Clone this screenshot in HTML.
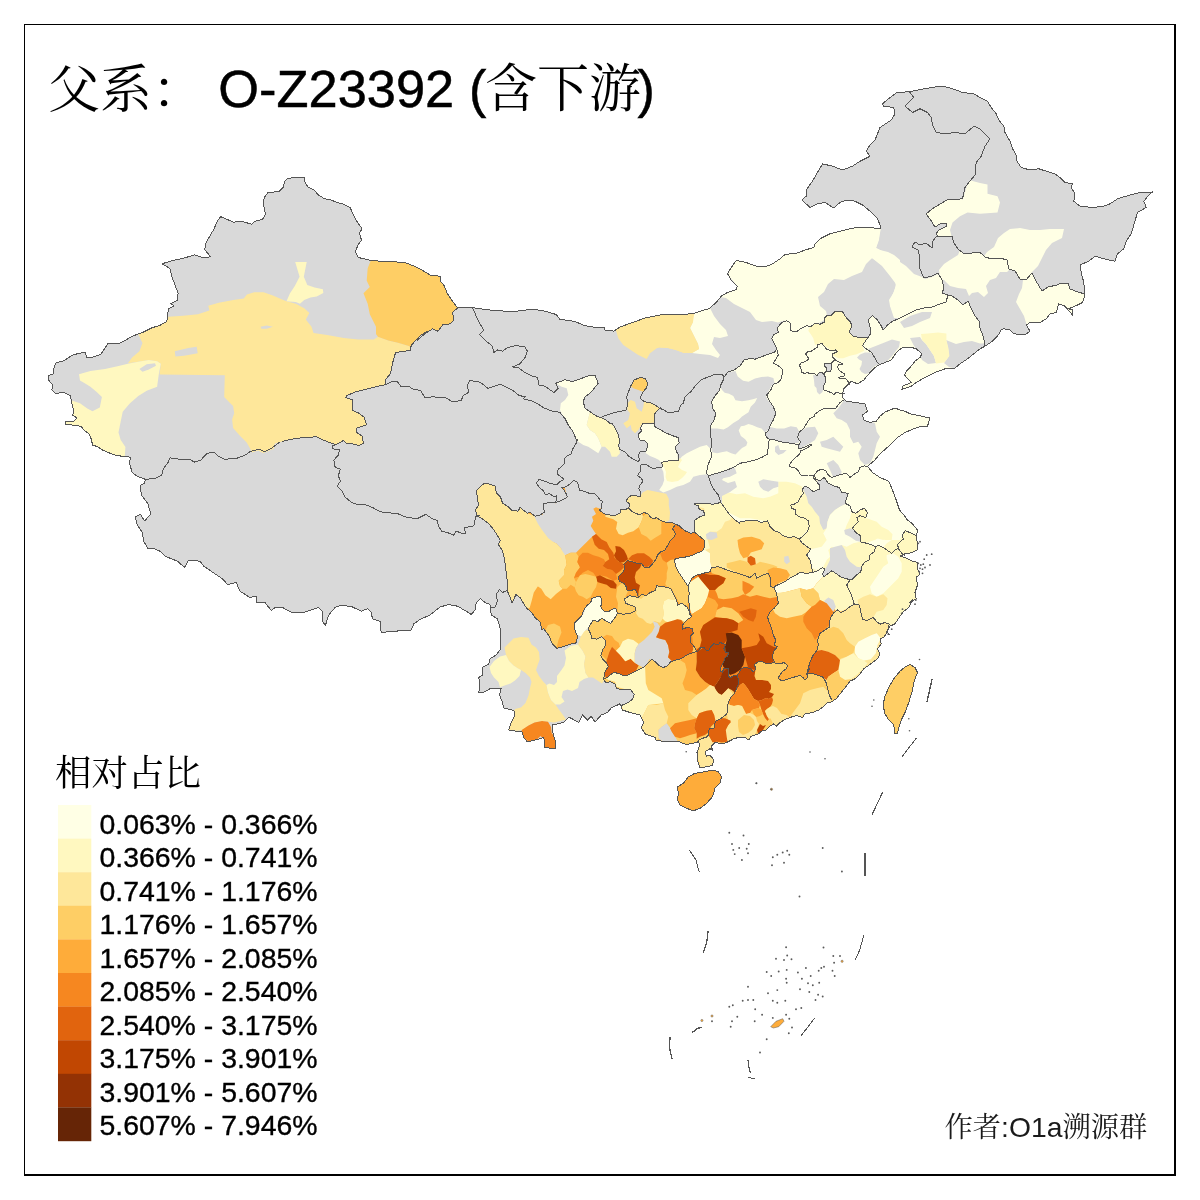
<!DOCTYPE html>
<html lang="zh"><head><meta charset="utf-8"><title>父系： O-Z23392 (含下游)</title>
<style>
html,body{margin:0;padding:0;background:#fff;}
body{width:1200px;height:1200px;overflow:hidden;position:relative;font-family:"Liberation Sans","Noto Serif CJK SC",sans-serif;}
svg{position:absolute;left:0;top:0;display:block}
text{font-family:"Liberation Sans","Noto Serif CJK SC",sans-serif;fill:#000}
.cj{font-family:"Noto Serif CJK SC","Liberation Serif",serif;font-weight:400}
.la{font-family:"Liberation Sans",sans-serif}
.lb{stroke:#000;stroke-width:0.5px}
.ls{stroke:#000;stroke-width:0.35px}
.b{fill:none;stroke:#555;stroke-width:1;stroke-linejoin:round;stroke-linecap:round;shape-rendering:crispEdges}
</style></head><body>
<svg width="1200" height="1200" viewBox="0 0 1200 1200">
<rect x="0" y="0" width="1200" height="1200" fill="#fff"/>
<path d="M400,262.1L385.4,261.7L370.8,260.4L358.3,257.5L355.2,251.7L358.3,244.4L361.5,240.2L359.4,232.9L362.1,228.8L356.2,220.4L352.1,212.1L350.4,207.9L343.8,204.2L337.5,202.7L331.2,200L324,198.5L317.7,194.4L314.6,190.2L308.3,187.1L305.2,182.9L304.2,177.7L295.8,177.1L287.5,178.8L284.4,181.9L283.3,187.1L279.2,191.2L267.7,192.9L264.2,197.5L263.5,204.8L265.6,214.2L262.5,219.4L254.2,221.5L252.1,224.2L241.7,221.5L233.3,222.1L220.8,216.7L217.7,220.4L213.5,229.8L206.2,242.3L204.6,249.6L208.3,253.8L210.4,256.9L202.1,257.5L194.8,254.8L183.3,258.3L170.8,261L162.1,263.8L169.8,268.3L171.9,276.7L175,285L178.1,293.3L177.1,300.6L170.8,303.8L174,305.8L168.3,309L167.7,315.2L166.7,321.5L159.4,325.6L150,328.3L152.9,327.3L142.5,332.5L132.1,336.2L124.8,340.8L119.6,343.3L108.1,343.3L105,348.1L100.8,354.4L92.5,357.1L86.7,357.5L85.2,352.3L79,353.3L71.7,355.4L64.4,360.6L56,362.7L54,367.9L53.3,373.8L48.3,375.8L48.8,380.4L52.5,384.6L51.9,389.8L55.4,393.3L64.4,392.5L70.6,396L71.7,403.3L73.8,410.6L72.7,415.4L76.9,417.9L73.8,421L65.4,421.7L65.4,424.2L81,426.2L84.2,430.4L89.4,434.2L91.5,439.8L92.5,445L97.7,446.7L102.9,450.2L110.2,453.3L116.5,455.4L123.8,456.5L130.4,457.1L129.6,463.8L132.1,472.1L136.2,475.8L145.6,479.4L144.2,483.5L140,485.6L141.5,495L147.7,503.3L150.8,513.8L144.6,521L140.4,514.2L135.2,516.9L137.3,525.2L142.5,532.5L143.5,540.8L147.7,548.1L152.5,548L160,551.2L165,556.2L177.5,561.2L184.5,567.5L188.8,560L200,561.2L203.8,566.2L215,573.8L222.5,578.8L227.5,584.5L236.2,582.5L240,591.2L250,597.5L256.2,596.2L257,602.5L265,602.5L271.2,610.5L275,607.5L282.5,607.5L292.5,613L305,612L318.8,607.5L322,611.2L322,621.2L325.5,625L328.8,615L335,607.5L341.2,605L352.5,607L361.2,611.2L367.5,608.8L371.2,612.5L372.5,618.8L380,621.2L381.2,632.5L395,631.2L411.2,630L413.8,623.8L420,619.5L430,615L440,607L448.8,604.5L457.5,606.2L466.2,611.2L471.2,614.5L475,610L476.2,602.5L480.5,598.8L485,602.5L490,604.5L491.2,615L497.5,618.8L500,627.5L500.5,640L500,650L496.2,655L490,658.8L488.8,663.8L482.5,667.5L483,675L478.8,677.5L480,685L478.8,692.5L482.5,693L490,688.8L501.2,688L499.5,695L502.5,702.5L503.8,708L513.8,710.5L515,715L511.2,722.5L508.8,730L522,732L523.8,737.5L527.5,742L540,738.8L543.8,737.5L545,747.5L555,748.8L555,740L552.5,731.2L552,725L563.8,722.5L568.8,717L578.8,722.5L582.5,715L587.5,720L591.2,716.2L595,722L601.2,715L607.5,712.5L611.2,708L620,703.8L622.5,710L630,712.5L640,715L643.8,722.5L641.2,727.5L645,733.8L655,737.5L656.2,740.5L670,742L677.5,741.2L686.2,744.5L693.8,743L698.8,742L699.5,746.2L697,752.5L697.5,760L700,768L712.5,765.5L713.8,760L710,755L706.2,756.2L705.5,751.2L710,748.8L712.5,750L711.2,746.2L715,742.5L722.5,743.8L727.5,742L733.8,738.8L740,737L745,737.5L748.8,740L751.2,736.2L755,735L758.8,733.8L761.2,731.2L766.2,730L770,726.2L773.8,723.8L776.2,726.2L780,722.5L785,719.5L790,717.5L796.2,715.5L802.5,717.5L805,713.8L812.5,712.5L818.8,710L823.8,706.2L827.5,702.5L831.2,702L836.2,698.8L841.2,692.5L846.2,686.2L850,681.2L855,678.8L860,673.8L863.8,668.8L867.5,666.2L872.5,662.5L877.5,658.8L880,653.8L877.5,648.8L881.2,643.8L880,638.8L883.8,637.5L887.5,631.2L890,626.2L895,623.8L900,616.2L903.8,611.2L908.8,607.5L912.5,600L910,602.5L916.2,598.8L915,592.5L917.5,585L916.2,577.5L920,573.8L917.5,568.8L917.5,562.5L912.5,561.2L905,557.5L900,556.2L905,553.8L912.5,552.5L917,550L917.5,542.5L916.2,537.5L917.5,530L912.5,523.8L907.5,520L903.8,515L899.5,510L896.2,500L892.5,490L888.8,481.2L880,477.5L872.5,472.5L867.5,466.2L875,460L878.8,455L885,449.5L890,445L897.5,437.5L905,432.5L913.8,428.8L921.2,426.2L927.5,426.2L930,418L925,417L916.2,415L910,413.8L905,411.2L900,410L895,408L890,410L885,412L880,416.2L876.2,421.2L870,422.5L863.8,420L862.5,415L867.5,411.2L865,403.8L855,402.5L846.2,401.2L842,397L843.8,388.8L851.2,381.2L857.5,383.8L863.8,380L870,372.5L875,367.5L878.8,365L885,362.5L891.2,360L897.5,351.2L902.5,347.5L910,347L916.2,348.8L922,353.8L920,357.5L915,361.2L910,367.5L906.2,371.2L904.5,375L907.5,378.8L911.2,382.5L902.5,386.2L902,389.5L911.2,386.2L916.2,382.5L922.5,378.8L927.5,376.2L935,372.5L945,368.8L955,368L960,363.8L967.5,358.8L973.8,353.8L980,348.8L985,346.2L992.5,341.2L997.5,336.2L1001.2,330L1003.8,328.8L1010,330L1013.8,333.8L1025,335L1030,331.2L1026.2,325L1030,322.5L1040,322.5L1046.2,318.8L1050,313.8L1056.2,312.5L1058.8,303.8L1065,306.2L1072.5,315L1072.5,310L1068.8,308.8L1077.5,305L1082.5,302.5L1085,295L1083.8,282.5L1081.2,272.5L1080,265L1088.8,261.2L1095,256.2L1103.8,258.8L1115,261.2L1117.5,253.8L1123.8,248.8L1126.2,241.2L1131.2,233.8L1133.8,225L1137.5,212.5L1146.2,207.5L1143.8,201.2L1148.8,195L1152.5,192L1140,192.5L1130,195L1117.5,198.8L1110,203.8L1103.8,206.2L1092.5,207.5L1080,206.2L1073.8,201.2L1075,193.8L1071.2,187.5L1072.5,183.8L1065,182.5L1060,177.5L1055,173.8L1046.2,171.2L1038.8,168.8L1030,170L1021.2,167.5L1016.2,160L1016.2,155L1012.5,148.8L1010,141.2L1005,132.5L1003.8,126.2L998.8,120L996.2,113.8L991.2,107.5L987.5,101.2L980,97.5L973.8,93.8L962.5,92.5L955,89.5L946.2,87L940,86.2L923.8,88.8L912.5,91.2L896.2,93L890,97.5L882.5,103.8L883.8,106.2L893.8,107.5L895,113.8L891.2,120L880,127.5L875,140L870,145L866.2,151.2L870,156.2L860,161.2L852.5,166.2L842.5,170L832.5,166.2L822.5,163.8L817.5,172.5L812.5,181.2L806.2,190L806.2,196.2L802,200L810,207.5L817.5,203.8L825,202.5L833.8,208L840,202.5L846.2,200L855,201.2L862.5,205L870,211.2L877.5,218.8L880,225L880,228.8L870,227.5L860,227L850,228.8L840,231.2L830,233.8L820,238.8L815,243.8L813.8,247.5L805,250L797.5,253L785,254.5L780,258.8L772.5,263.8L765,267L756.2,266.2L746.2,262.5L736.2,260.5L731.2,267.5L727.5,273.8L731.2,280L737.5,286.2L736.2,289.5L727.5,292.5L721.2,296.2L716.2,302.5L708.8,308.8L700,311.2L692.5,313.8L677.5,314.5L660,315L645,318L632.5,322.5L620,327L613.8,331.2L610,330L605,330L603.8,327L592.5,327L583.8,325.5L577.5,322.5L570,320.5L560,319.5L556.2,314.5L545,311.2L535,309.5L526.2,310L516.2,311.2L510,312L500,310.5L490,310L480,308.8L472.5,307.5L457.5,308L452.5,301.2L447.5,293.8L443.8,285L440,281.2L440,276.2L430,275L420,268.8L412.5,265.5L405,262.5Z" fill="#D9D9D9"/>
<defs><clipPath id="c-gansu"><path d="M472.5,307.5L457.5,308L452.5,312.5L453.8,320L450,323.8L442.5,325L438,331.2L432.5,328.8L425,333.8L417.5,340L427.9,331L420.6,335.2L415.4,340.4L411.2,345.6L410.2,350.4L395.6,352.5L392.5,363.3L390.4,373.8L385.2,380L386.2,384.6L390.4,382.1L396.7,381L400.8,386.2L409.2,386.7L413.3,389.4L420.6,390.4L424.8,397.7L433.1,396.7L438.3,397.7L444.6,397.1L452.9,401.9L461.2,400.4L463.3,395.6L468.5,392.5L467.5,385.2L469.6,380.4L480,382.1L487.9,388.3L494.2,386.2L500.4,384.2L506.7,387.3L512.9,390.4L519.2,395.6L525.4,396.7L523.3,398.8L531.7,400.8L537.9,404L544.2,408.1L552.5,411.2L559.8,412.3L565,418.5L568.1,424.8L573.3,432.1L576.5,440.4L577.5,440L576.2,443.1L574.4,446.2L572.5,449.4L571.2,453.8L567.5,455.6L564.4,458.8L565,463.1L561.9,466.2L558.1,469.4L557.5,474.4L561.9,477.5L563.8,479.4L559.4,481.9L556.9,484.4L550.6,483.8L545,481.2L538.8,479.4L536.5,483.1L539.4,487.5L543.8,491.2L545,494.4L550,493.8L553.8,496.9L556.9,495.6L556.9,498.8L555.6,502.5L560,501.2L564.4,498.8L567.5,496.9L565.6,492.5L563.8,490L561.9,487.5L566.2,486.9L570,483.8L573.8,480.6L576.2,481.2L578.1,483.8L579.4,490L583.8,491.2L588.8,493.1L595,493.8L598.1,496.9L600,500L602.5,501.2L601.2,505L601.9,508.1L599.4,510L603.8,513.8L610,515L616.2,515L620,513.1L620,510L625.6,509.4L628.8,508.1L629.4,503.8L626.2,501.2L628.1,497.5L631.2,495.6L636.2,495.6L640,496.9L640.6,492.5L638.8,488.8L640,485L643.1,481.2L641.2,478.1L637.5,475.6L640,471.9L640,466.9L641.2,465L646.2,464.4L650,466.9L653.8,468.8L657.5,467.5L663.1,466.9L661.2,462.5L666.2,461.2L671.2,460.6L678.1,460.6L678.8,455L676.2,451.2L675.6,446.2L678.1,443.8L680,442.5L679,442L678,437.5L672,435.5L666,433L660,429.5L654.5,426.5L654,423.5L643,423.5L640.5,428L641.5,431L639,433.5L638,436L640,440L645,441L648,444L647,448L646,451L640,452L638.5,455L639.5,460L638,461.5L633,459L629,456.5L625,452L619.5,449L618.5,445L620,441L618,434L615,428L612,423L610,423.3L605.8,420L600.8,417.5L595.8,415.8L590,411.7L585,408.3L583.7,403.3L584.2,397.5L590,393.3L594.2,388.3L598.3,383.3L595,375.3L588.3,375.8L581.7,378.3L572.5,381.7L565,379.7L555.8,383.3L558.3,388.3L553.8,392.5L545,386.2L538.8,385L537.5,377.5L532.5,376.2L525,372.5L518.8,368L512.5,367L520,363.8L525,357.5L527.5,351.2L525,347L516.2,345.5L507.5,347.5L502.5,351.2L497.5,350L493.8,352.5L492.5,346.2L486.2,341.2L479.5,334.5L483.8,330L480,323.8L476.2,316.2Z"/></clipPath><clipPath id="c-im"><path d="M909.3,91.6L896.2,93L890,97.5L882.5,103.8L883.8,106.2L893.8,107.5L895,113.8L891.2,120L880,127.5L875,140L870,145L866.2,151.2L870,156.2L860,161.2L852.5,166.2L842.5,170L832.5,166.2L822.5,163.8L817.5,172.5L812.5,181.2L806.2,190L806.2,196.2L802,200L810,207.5L817.5,203.8L825,202.5L833.8,208L840,202.5L846.2,200L855,201.2L862.5,205L870,211.2L877.5,218.8L880,225L880,228.8L870,227.5L860,227L850,228.8L840,231.2L830,233.8L820,238.8L815,243.8L813.8,247.5L805,250L797.5,253L785,254.5L780,258.8L772.5,263.8L765,267L756.2,266.2L746.2,262.5L736.2,260.5L731.2,267.5L727.5,273.8L731.2,280L737.5,286.2L736.2,289.5L727.5,292.5L721.2,296.2L716.2,302.5L708.8,308.8L700,311.2L692.5,313.8L677.5,314.5L660,315L645,318L632.5,322.5L620,327L613.8,331.2L610,330L605,330L603.8,327L592.5,327L583.8,325.5L577.5,322.5L570,320.5L560,319.5L556.2,314.5L545,311.2L535,309.5L526.2,310L516.2,311.2L510,312L500,310.5L490,310L480,308.8L472.5,307.5L476.2,316.2L480,323.8L483.8,330L479.5,334.5L486.2,341.2L492.5,346.2L493.8,352.5L497.5,350L502.5,351.2L507.5,347.5L516.2,345.5L525,347L527.5,351.2L525,357.5L520,363.8L512.5,367L518.8,368L525,372.5L532.5,376.2L537.5,377.5L538.8,385L545,386.2L553.8,392.5L558.3,388.3L555.8,383.3L565,379.7L572.5,381.7L581.7,378.3L588.3,375.8L595,375.3L598.3,383.3L594.2,388.3L590,393.3L584.2,397.5L583.7,403.3L585,408.3L590,411.7L595.8,415.8L600.8,417.5L606.7,415L615,412.5L623.3,410.8L626.7,409.7L627.5,403.3L626.7,396.7L629.2,390L630.8,385.8L634.2,380L640,377.5L645,378.3L647.5,383.3L646.7,387.5L643.3,391.7L640,398.3L644.2,401.7L650,402.5L655,405L659.7,408.3L660,408.4L664.2,410L667.5,412.5L678.3,411.7L680.8,405L683.3,403.3L685,396.7L690.8,391.7L695.8,385L700.8,380L706.7,377.5L713.3,375L721.7,374.2L724.2,376.7L728.3,371.7L734.2,370L740,365.8L744.2,360L750,358.3L755,359.2L761.7,356.7L768.3,354.2L774.2,352.5L776.7,349.2L775.8,346.7L773.3,341.7L771.7,338.3L774.2,334.2L778.3,332.5L777.5,327.5L781.7,322.5L786.7,320.8L790,322.5L790.8,330.8L796.7,331.7L800,329.2L806.7,325.8L810.8,326.7L815,323.3L820,324.2L825,321.7L824.2,318.3L827.5,315L831.7,315L835,311.7L842.5,311.7L846.7,318.3L850.8,322.5L851.7,326.7L849.2,331.7L852.5,335.8L858.3,337.5L865,337.5L867.5,338.3L870.8,333.3L870,326.7L868.3,320L872.5,315.8L876.7,319.2L880.8,325L883.3,330L887.5,325L893.3,320.8L897.6,319.2L900,318L908,314L916,310L924,308L932,307L940,304L946,302L948,295L942,293L944,288L942,280L938,273L932,276L924,278L922,274L919,266L920,258L918,250L912,247L915,242L920,245L926,243L932,248L933,241L936,237L948,236L938,236.6L936,234L939,230L947,226L946,223L940,224L935,227L930,219L926,214L932,209L940,204L947,200L962.5,198.8L965,187.5L968.8,182.5L975,175L976.2,162.5L981.2,156.2L985,146.2L990,138.8L980,128.8L973.8,126.2L965,133.8L955,132.5L945,133.8L936.2,132.5L932.5,125L931.2,117.5L927.5,112.5L920,108.8L912.5,112.5L905,106.2L913.8,97.5L910,92.5Z"/></clipPath><clipPath id="c-hlj"><path d="M1084.9,294L1083.8,282.5L1081.2,272.5L1080,265L1088.8,261.2L1095,256.2L1103.8,258.8L1115,261.2L1117.5,253.8L1123.8,248.8L1126.2,241.2L1131.2,233.8L1133.8,225L1137.5,212.5L1146.2,207.5L1143.8,201.2L1148.8,195L1152.5,192L1140,192.5L1130,195L1117.5,198.8L1110,203.8L1103.8,206.2L1092.5,207.5L1080,206.2L1073.8,201.2L1075,193.8L1071.2,187.5L1072.5,183.8L1065,182.5L1060,177.5L1055,173.8L1046.2,171.2L1038.8,168.8L1030,170L1021.2,167.5L1016.2,160L1016.2,155L1012.5,148.8L1010,141.2L1005,132.5L1003.8,126.2L998.8,120L996.2,113.8L991.2,107.5L987.5,101.2L980,97.5L973.8,93.8L962.5,92.5L955,89.5L946.2,87L940,86.2L923.8,88.8L912.5,91.2L909.3,91.6L910,92.5L913.8,97.5L905,106.2L912.5,112.5L920,108.8L927.5,112.5L931.2,117.5L932.5,125L936.2,132.5L945,133.8L955,132.5L965,133.8L973.8,126.2L980,128.8L990,138.8L985,146.2L981.2,156.2L976.2,162.5L975,175L968.8,182.5L965,187.5L962.5,198.8L947,200L940,204L932,209L926,214L930,219L935,227L940,224L946,223L947,226L939,230L936,234L938,236.6L948,236L952,236L954,243L958,249L964,253.6L972,253L980,252.4L985,257L992,259L1000,258L1007,260L1009,269L1015,271L1020,279L1026,280L1032,273L1036,281L1042,291L1048,287L1057,285L1061,283L1068,283L1070,289L1078,292Z"/></clipPath><clipPath id="c-jilin"><path d="M984.3,346.6L985,346.2L992.5,341.2L997.5,336.2L1001.2,330L1003.8,328.8L1010,330L1013.8,333.8L1025,335L1030,331.2L1026.2,325L1030,322.5L1040,322.5L1046.2,318.8L1050,313.8L1056.2,312.5L1058.8,303.8L1065,306.2L1072.5,315L1072.5,310L1068.8,308.8L1077.5,305L1082.5,302.5L1085,295L1084.9,294L1078,292L1070,289L1068,283L1061,283L1057,285L1048,287L1042,291L1036,281L1032,273L1026,280L1020,279L1015,271L1009,269L1007,260L1000,258L992,259L985,257L980,252.4L972,253L964,253.6L958,249L954,243L952,236L948,236L936,237L933,241L932,248L926,243L920,245L915,242L912,247L918,250L920,258L919,266L922,274L924,278L932,276L938,273L942,280L944,288L942,293L948,295L952,296L958,300L963,305L968,301L971,308L975,316L979,321L980,328L983,336L985,343L984.4,346Z"/></clipPath><clipPath id="c-liaoning"><path d="M879.4,364.8L885,362.5L891.2,360L897.5,351.2L902.5,347.5L910,347L916.2,348.8L922,353.8L920,357.5L915,361.2L910,367.5L906.2,371.2L904.5,375L907.5,378.8L911.2,382.5L902.5,386.2L902,389.5L911.2,386.2L916.2,382.5L922.5,378.8L927.5,376.2L935,372.5L945,368.8L955,368L960,363.8L967.5,358.8L973.8,353.8L980,348.8L984.3,346.6L984.4,346L985,343L983,336L980,328L979,321L975,316L971,308L968,301L963,305L958,300L952,296L948,295L946,302L940,304L932,307L924,308L916,310L908,314L900,318L897.6,319.2L893.3,320.8L887.5,325L883.3,330L880.8,325L876.7,319.2L872.5,315.8L868.3,320L870,326.7L870.8,333.3L867.5,338.3L865,341.7L862.5,345.8L866.7,349.2L871.7,352.5L874.2,356.7L876.7,361.7L878.7,364Z"/></clipPath><clipPath id="c-hebei"><path d="M844.5,399.5L842,397L842.8,393.3L839,393L836,392.5L834,394.5L831,392.5L828,391.5L824,390L823,387L824.5,384L826,382L825.5,378.5L824.5,374.5L824.2,373.5L824,374.5L822,372.5L819,373L817,375.5L814,373.5L810,374L808,372.5L804.5,373.5L801.5,372L801,368.5L799.5,365.5L801,363L805,361.5L809,359L807,356L805.5,354L807.5,352L811.5,351L814.5,349L817.5,347L818,344.5L822,343.5L824,346L827,349.5L832,351L835.5,350L837.5,351.5L834.5,353L832.5,354L833,357.5L835,359.5L837.5,361.5L840,362.5L842.5,364L841,365L838.5,364.5L837.5,367L839,370L841.5,372L844,373.5L844.5,376L841.5,376.5L838.5,377.5L840,378.5L844,378L846.5,379.5L849.2,383.3L851.2,381.2L857.5,383.8L863.8,380L870,372.5L875,367.5L878.8,365L879.4,364.8L878.7,364L876.7,361.7L874.2,356.7L871.7,352.5L866.7,349.2L862.5,345.8L865,341.7L867.5,338.3L865,337.5L858.3,337.5L852.5,335.8L849.2,331.7L851.7,326.7L850.8,322.5L846.7,318.3L842.5,311.7L835,311.7L831.7,315L827.5,315L824.2,318.3L825,321.7L820,324.2L815,323.3L810.8,326.7L806.7,325.8L800,329.2L796.7,331.7L790.8,330.8L790,322.5L786.7,320.8L781.7,322.5L777.5,327.5L778.3,332.5L774.2,334.2L771.7,338.3L773.3,341.7L775.8,346.7L776.7,349.2L778.3,355L773.3,363.3L778.3,365.8L782.5,369.2L781.7,378.3L778.3,382.5L773.3,384.2L770.8,390L766.7,395L770,401.7L773.3,406.7L775.8,413.3L773.3,420L770,425.8L768.3,430.8L765,433.3L766.7,437.5L769.2,439.2L775,440L783.3,442.5L791.7,443.3L799,445L800.5,442L797.5,437.5L799.5,432L804,428L807.5,422L810,418.5L815,416L814.5,414.5L820,410.5L824,408.5L836,408L840,402.5Z"/></clipPath><clipPath id="c-beijing"><path d="M835,359.5L833,357.5L832.5,354L834.5,353L837.5,351.5L835.5,350L832,351L827,349.5L824,346L822,343.5L818,344.5L817.5,347L814.5,349L811.5,351L807.5,352L805.5,354L807,356L809,359L805,361.5L801,363L799.5,365.5L801,368.5L801.5,372L804.5,373.5L808,372.5L810,374L814,373.5L817,375.5L819,373L822,372.5L824,374.5L824.2,373.5L824.5,372.5L826.5,371.5L827,368.5L825,366.5L824,364L830,363.2L831,363.5L833,361.5Z"/></clipPath><clipPath id="c-tianjin"><path d="M842.8,393.3L843.8,388.8L849.2,383.3L846.5,379.5L844,378L840,378.5L838.5,377.5L841.5,376.5L844.5,376L844,373.5L841.5,372L839,370L837.5,367L838.5,364.5L841,365L842.5,364L840,362.5L837.5,361.5L835,359.5L833,361.5L831,363.5L832,366.5L831.5,369.5L830,372L826.5,371.5L824.5,372.5L824.2,373.5L824.5,374.5L825.5,378.5L826,382L824.5,384L823,387L824,390L828,391.5L831,392.5L834,394.5L836,392.5L839,393Z"/></clipPath><clipPath id="c-langfang"><path d="M826.5,371.5L830,372L831.5,369.5L832,366.5L831,363.5L830,363.2L824,364L825,366.5L827,368.5Z"/></clipPath><clipPath id="c-shanxi"><path d="M740,365.8L734.2,370L728.3,371.7L724.2,376.7L723.3,380L720.8,385L719.2,390.8L715,395.8L711.7,401.7L712.5,408.3L715.8,413.3L714.2,420L710.8,425L710,433.3L711.7,441.7L710.8,450L711.7,456.7L707.5,465.8L706.7,473.3L708.3,475.8L716.7,473.3L725,470.8L733.3,467.5L740,463.3L748.3,461.7L755,460L761.7,457.5L767.5,454.2L768.3,446.7L769.2,439.2L766.7,437.5L765,433.3L768.3,430.8L770,425.8L773.3,420L775.8,413.3L773.3,406.7L770,401.7L766.7,395L770.8,390L773.3,384.2L778.3,382.5L781.7,378.3L782.5,369.2L778.3,365.8L773.3,363.3L778.3,355L776.7,349.2L774.2,352.5L768.3,354.2L761.7,356.7L755,359.2L750,358.3L744.2,360Z"/></clipPath><clipPath id="c-shaanxi"><path d="M680,442.5L678.1,443.8L675.6,446.2L676.2,451.2L678.8,455L678.1,460.6L671.2,460.6L666.2,461.2L661.2,462.5L663.1,466.9L657.5,467.5L653.8,468.8L650,466.9L646.2,464.4L641.2,465L640,466.9L640,471.9L637.5,475.6L641.2,478.1L643.1,481.2L640,485L638.8,488.8L640.6,492.5L640,496.9L636.2,495.6L631.2,495.6L628.1,497.5L626.2,501.2L629.4,503.8L628.8,508.1L631.9,511.2L636.2,513.8L640,514.4L643.8,512.5L648.1,513.8L650.6,517.5L654.4,518.8L656.2,517.5L660,520L664.4,521.9L668.8,522.5L673.5,523.1L673.8,523.1L674.7,523.7L675.7,524.3L675.7,524.3L676.1,524.5L680,526.7L685,530.8L690.8,533.3L695,532.5L694.2,526.7L695,520L700,516.7L705,515L703.3,510.8L699.2,509.2L698.3,505.8L694.2,504.2L696.7,503L703.3,503.3L713.3,504.2L720.8,502.5L718.3,495L714.2,490L710.8,483.3L708.3,475.8L706.7,473.3L707.5,465.8L711.7,456.7L710.8,450L711.7,441.7L710,433.3L710.8,425L714.2,420L715.8,413.3L712.5,408.3L711.7,401.7L715,395.8L719.2,390.8L720.8,385L723.3,380L724.2,376.7L721.7,374.2L713.3,375L706.7,377.5L700.8,380L695.8,385L690.8,391.7L685,396.7L683.3,403.3L680.8,405L678.3,411.7L667.5,412.5L664.2,410L660,408.4L659.9,408.5L658,410L655,413.5L654,417.5L654,423.5L654.5,426.5L660,429.5L666,433L672,435.5L678,437.5L679,442Z"/></clipPath><clipPath id="c-ningxia"><path d="M659.7,408.3L655,405L650,402.5L644.2,401.7L640,398.3L643.3,391.7L646.7,387.5L647.5,383.3L645,378.3L640,377.5L634.2,380L630.8,385.8L629.2,390L626.7,396.7L627.5,403.3L626.7,409.7L623.3,410.8L615,412.5L606.7,415L600.8,417.5L605.8,420L610,423.3L612,423L615,428L618,434L620,441L618.5,445L619.5,449L625,452L629,456.5L633,459L638,461.5L639.5,460L638.5,455L640,452L646,451L647,448L648,444L645,441L640,440L638,436L639,433.5L641.5,431L640.5,428L643,423.5L654,423.5L654,417.5L655,413.5L658,410L659.9,408.5Z"/></clipPath><clipPath id="c-shandong"><path d="M868,466.8L867.5,466.2L875,460L878.8,455L885,449.5L890,445L897.5,437.5L905,432.5L913.8,428.8L921.2,426.2L927.5,426.2L930,418L925,417L916.2,415L910,413.8L905,411.2L900,410L895,408L890,410L885,412L880,416.2L876.2,421.2L870,422.5L863.8,420L862.5,415L867.5,411.2L865,403.8L855,402.5L846.2,401.2L844.5,399.5L840,402.5L836,408L824,408.5L820,410.5L814.5,414.5L815,416L810,418.5L807.5,422L804,428L799.5,432L797.5,437.5L800.5,442L799,445L798.5,449L804,447.5L810,444.5L811.5,445L807,448L803,450L801,450L799.5,454L793,460L789.2,465L790,466.7L795.8,468.3L798.3,470.8L800.8,475L808.3,475L814.2,475.3L817.5,470.8L821.7,469.2L825.8,470.8L828.3,475L831.7,477.5L836.7,475.8L841.7,474.2L846.7,473.3L850,477.5L854.2,474.2L858.3,471.7L860,467.5L864.2,465.8L867.5,466.7Z"/></clipPath><clipPath id="c-henan"><path d="M708.3,475.8L710.8,483.3L714.2,490L718.3,495L720.8,502.5L725,508.3L730,515L735,520L738,522L740,521.7L746.7,520.8L755,520L761.7,522.5L767.5,520.8L770,526.7L774.2,530.8L779.2,532.5L783.3,535.8L788.3,537.5L794.2,536.7L799.2,539.2L804.2,535L807.5,531.7L809.2,526.7L808.3,520.8L805,518.3L799.2,516.7L795.8,514.2L795.8,510L791.7,508.3L790.8,505L794.2,504.2L798.3,501.7L800.8,496.7L803.3,493.3L802.5,489.2L805,485.8L809.2,488.3L813.3,491.7L819.2,489.2L820,485.8L816.7,481.7L813.3,477.5L814.2,475.3L808.3,475L800.8,475L798.3,470.8L795.8,468.3L790,466.7L789.2,465L793,460L799.5,454L801,450L803,450L807,448L811.5,445L810,444.5L804,447.5L798.5,449L799,445L791.7,443.3L783.3,442.5L775,440L769.2,439.2L768.3,446.7L767.5,454.2L761.7,457.5L755,460L748.3,461.7L740,463.3L733.3,467.5L725,470.8L716.7,473.3Z"/></clipPath><clipPath id="c-jiangsu"><path d="M916.5,535.7L917.5,530L912.5,523.8L907.5,520L903.8,515L899.5,510L896.2,500L892.5,490L888.8,481.2L880,477.5L872.5,472.5L868,466.8L867.5,466.7L864.2,465.8L860,467.5L858.3,471.7L854.2,474.2L850,477.5L846.7,473.3L841.7,474.2L836.7,475.8L831.7,477.5L828.3,475L825.8,470.8L821.7,469.2L817.5,470.8L814.2,475.3L815.8,479.2L820,480.8L824.2,477.5L828.3,483.3L833.3,485.8L839.2,487.5L841.7,492.5L848.3,493.3L846.7,498.3L845,503.3L850,505.8L851.7,511.7L855.8,513.3L860,510L864.2,508.3L867.5,512.5L865.8,517.5L860,515.8L856.7,517.5L858.3,521.7L855,525L852.5,528.3L855.8,532.5L860.8,535.8L860,541.7L866.7,543.3L871.7,545L875.8,546.7L878.3,545L883.3,547.5L889.2,551.7L891.7,553.3L895,550L898.3,548.3L897.5,545L900,541.7L903.3,539.2L902.5,535L905,530.8L910,532.5Z"/></clipPath><clipPath id="c-anhui"><path d="M875.8,546.7L871.7,545L866.7,543.3L860,541.7L860.8,535.8L855.8,532.5L852.5,528.3L855,525L858.3,521.7L856.7,517.5L860,515.8L865.8,517.5L867.5,512.5L864.2,508.3L860,510L855.8,513.3L851.7,511.7L850,505.8L845,503.3L846.7,498.3L848.3,493.3L841.7,492.5L839.2,487.5L833.3,485.8L828.3,483.3L824.2,477.5L820,480.8L815.8,479.2L814.2,475.3L813.3,477.5L816.7,481.7L820,485.8L819.2,489.2L813.3,491.7L809.2,488.3L805,485.8L802.5,489.2L803.3,493.3L800.8,496.7L798.3,501.7L794.2,504.2L790.8,505L791.7,508.3L795.8,510L795.8,514.2L799.2,516.7L805,518.3L808.3,520.8L809.2,526.7L807.5,531.7L804.2,535L799.2,539.2L801.7,542.5L805.8,545.8L810.8,549.2L806.7,555L810,560L811.7,566.7L812.5,572.5L817.5,570.8L822.5,567.5L825,569.2L822.5,574.2L824.2,576.7L828.3,573.3L831.7,570.8L835.8,573.3L841.7,577.5L845.8,578.3L850,580L852.5,579.2L856.7,575L860.8,571.7L861.7,566.7L864.2,562.5L869.2,560L870,555L874.2,551.7Z"/></clipPath><clipPath id="c-shanghai"><path d="M903.2,554.7L905,553.8L912.5,552.5L917,550L917.5,542.5L916.2,537.5L916.5,535.7L910,532.5L905,530.8L902.5,535L903.3,539.2L900,541.7L897.5,545L899.2,550L902.5,554.2Z"/></clipPath><clipPath id="c-hubei"><path d="M738,522L735,520L730,515L725,508.3L720.8,502.5L713.3,504.2L703.3,503.3L696.7,503L694.2,504.2L698.3,505.8L699.2,509.2L703.3,510.8L705,515L700,516.7L695,520L694.2,526.7L695,532.5L700,536.7L704.2,540L705,546.7L702.5,550.8L696.7,553.3L690.8,555.8L683.3,557.5L676.7,558.3L674.2,560L675.8,566.7L678.3,571.7L681.7,576.7L685,581.7L688.3,586.7L689.2,583.3L691.7,578.3L696.7,575L703.3,573.3L710,571.7L711.7,567.5L718.3,566.7L725,569.2L731.7,571.7L738.3,573.3L745,575.8L750,577.5L755,573.3L756.7,578.3L763.3,575L768.3,573.3L770.8,578.3L770,586.7L773,587.3L773.9,586.8L774.2,586.7L779.2,584.2L785,581.7L790.8,577.5L795.8,575L800,572.5L806.7,573.3L812.5,572.5L811.7,566.7L810,560L806.7,555L810.8,549.2L805.8,545.8L801.7,542.5L799.2,539.2L794.2,536.7L788.3,537.5L783.3,535.8L779.2,532.5L774.2,530.8L770,526.7L767.5,520.8L761.7,522.5L755,520L746.7,520.8L740,521.7Z"/></clipPath><clipPath id="c-chongqing"><path d="M676.1,524.5L675.6,524.4L672.5,528.8L675.6,533.8L673.8,537.5L670,541.2L667.5,545.6L665,550L660.6,551.9L657.5,555L656.2,558.8L653.1,563.1L650,566.9L645,568.1L641.2,563.1L636.2,563.1L632.5,561.9L627.5,560.6L623.8,564.4L625,568.8L622.5,572.5L618.1,576.9L619.4,581.2L624.4,583.8L626.2,586.9L626.9,590L626.9,590L630,590.8L635,589.2L637.5,594.2L638.3,597.5L641.7,594.2L645.8,595.8L650,592.5L655,590.8L656.7,585.8L663.3,586.7L670.8,588.3L673.3,593.3L676.7,600L677.5,605L681.7,603.3L686.7,606.7L689.4,612L690,606.7L688.3,600L689.2,593.3L688.3,586.7L685,581.7L681.7,576.7L678.3,571.7L675.8,566.7L674.2,560L676.7,558.3L683.3,557.5L690.8,555.8L696.7,553.3L702.5,550.8L705,546.7L704.2,540L700,536.7L695,532.5L690.8,533.3L685,530.8L680,526.7Z"/></clipPath><clipPath id="c-sichuan"><path d="M555.6,502.5L548.8,502.5L543.8,503.8L543.1,508.1L545,511.9L540,515L535,516.2L531.9,513.8L530,512.5L527.5,513.3L523.3,510.2L520.2,507.1L518.1,511.2L511.9,510.2L508.8,507.1L502.5,502.9L500.4,496.7L496.2,492.5L495.2,486.2L490,484.2L484.8,483.1L480.6,486.2L476.5,490.4L477.5,498.8L478.5,505L475.4,510.2L477.1,515.8L477.5,516L481.7,518.5L489,523.8L493.1,529L497.3,535.2L500.4,540.4L498.3,544.6L502.5,550.8L504.6,559.2L505.6,567.5L506.7,575.8L507.7,585.2L507.1,590.4L509.8,596.7L511.9,602.9L516,594.6L520.2,597.7L523.3,602.9L526.5,608.1L531.7,612.3L534.8,617.5L540,621.7L542.1,630L543.3,628.3L548.3,635L550,638.3L552.5,644.2L556.7,648.3L563.3,646.7L570,644.2L575.8,643.3L577.5,636.7L575,630L574.2,623.3L577.5,620L581.7,615.8L584.2,609.2L587.5,605L590.8,602.5L591.7,598.3L596.7,596.7L600.8,596.7L601.7,601.7L600.8,606.7L603.3,610.8L608.3,611.7L612.5,609.2L615.8,608.3L617.5,613.3L623.3,614.2L630,613.3L635.8,610.8L635,606.7L630,605L625.8,603.3L624.2,599.2L629.2,595.8L635,596.7L638.3,597.5L637.5,594.2L635,589.2L630,590.8L626.9,590L626.9,590L626.2,586.9L624.4,583.8L619.4,581.2L618.1,576.9L622.5,572.5L625,568.8L623.8,564.4L627.5,560.6L632.5,561.9L636.2,563.1L641.2,563.1L645,568.1L650,566.9L653.1,563.1L656.2,558.8L657.5,555L660.6,551.9L665,550L667.5,545.6L670,541.2L673.8,537.5L675.6,533.8L672.5,528.8L675.6,524.4L674.7,523.7L673.5,523.1L668.8,522.5L664.4,521.9L660,520L656.2,517.5L654.4,518.8L650.6,517.5L648.1,513.8L643.8,512.5L640,514.4L636.2,513.8L631.9,511.2L628.8,508.1L625.6,509.4L620,510L620,513.1L616.2,515L610,515L603.8,513.8L599.4,510L601.9,508.1L601.2,505L602.5,501.2L600,500L598.1,496.9L595,493.8L588.8,493.1L583.8,491.2L579.4,490L578.1,483.8L576.2,481.2L573.8,480.6L570,483.8L566.2,486.9L561.9,487.5L563.8,490L565.6,492.5L567.5,496.9L564.4,498.8L560,501.2Z"/></clipPath><clipPath id="c-yunnan"><path d="M490.4,608L491.2,615L497.5,618.8L500,627.5L500.5,640L500,650L496.2,655L490,658.8L488.8,663.8L482.5,667.5L483,675L478.8,677.5L480,685L478.8,692.5L482.5,693L490,688.8L501.2,688L499.5,695L502.5,702.5L503.8,708L513.8,710.5L515,715L511.2,722.5L508.8,730L522,732L523.8,737.5L527.5,742L540,738.8L543.8,737.5L545,747.5L555,748.8L555,740L552.5,731.2L552,725L563.8,722.5L568.8,717L578.8,722.5L582.5,715L587.5,720L591.2,716.2L595,722L601.2,715L607.5,712.5L611.2,708L620,703.8L620.8,705.8L624.2,704.2L628.3,702.5L632.5,699.2L634.2,694.2L630.8,690L626.7,689.2L622.5,690L616.7,688.3L615,684.2L610.8,681.7L605.8,682.5L603.3,679.2L604.2,676.7L605,671.7L608.3,666.7L606.7,663.3L603.3,660L600.8,655.8L602.5,650L605.8,645L605,640L601.7,636.7L596.7,639.2L591.7,638.3L590.8,634.2L588.3,629.2L590,625L593.3,620L597.5,621.7L601.7,618.3L605.8,620.8L610.8,623.3L615,617.5L617.5,613.3L615.8,608.3L612.5,609.2L608.3,611.7L603.3,610.8L600.8,606.7L601.7,601.7L600.8,596.7L596.7,596.7L591.7,598.3L590.8,602.5L587.5,605L584.2,609.2L581.7,615.8L577.5,620L574.2,623.3L575,630L577.5,636.7L575.8,643.3L570,644.2L563.3,646.7L556.7,648.3L552.5,644.2L550,638.3L548.3,635L543.3,628.3L542.1,630L540,621.7L534.8,617.5L531.7,612.3L526.5,608.1L523.3,602.9L520.2,597.7L516,594.6L511.9,602.9L509.8,596.7L507.1,590.4L502.5,592.5L499.4,589.4L496.2,594.6L497.3,600.8L495.2,607.1Z"/></clipPath><clipPath id="c-guizhou"><path d="M691.7,616.7L689.2,613.3L689.4,612L686.7,606.7L681.7,603.3L677.5,605L676.7,600L673.3,593.3L670.8,588.3L663.3,586.7L656.7,585.8L655,590.8L650,592.5L645.8,595.8L641.7,594.2L638.3,597.5L635,596.7L629.2,595.8L624.2,599.2L625.8,603.3L630,605L635,606.7L635.8,610.8L630,613.3L623.3,614.2L617.5,613.3L615,617.5L610.8,623.3L605.8,620.8L601.7,618.3L597.5,621.7L593.3,620L590,625L588.3,629.2L590.8,634.2L591.7,638.3L596.7,639.2L601.7,636.7L605,640L605.8,645L602.5,650L600.8,655.8L603.3,660L606.7,663.3L608.3,666.7L605,671.7L604.2,676.7L603.3,679.2L608.3,676.7L613.3,672.5L618.3,673.3L623.3,675.8L628.3,675L633.3,672.5L638.3,670L643.3,667.5L647.5,663.3L651.7,659.2L655,661.7L658.3,665L663.3,667.5L667.5,665.8L670.8,661.7L675.8,660L680,659.2L684.2,656.7L688.3,654.2L693.3,652.5L696.7,651.7L694.2,646.7L690.8,642.5L690,636.7L693.3,633.3L692.5,628.3L686.7,627.5L682.5,629.2L682.5,625L686.7,620Z"/></clipPath><clipPath id="c-hunan"><path d="M773,587.3L770,586.7L770.8,578.3L768.3,573.3L763.3,575L756.7,578.3L755,573.3L750,577.5L745,575.8L738.3,573.3L731.7,571.7L725,569.2L718.3,566.7L711.7,567.5L710,571.7L703.3,573.3L696.7,575L691.7,578.3L689.2,583.3L688.3,586.7L689.2,593.3L688.3,600L690,606.7L689.4,612L691.7,616.7L686.7,620L682.5,625L682.5,629.2L686.7,627.5L692.5,628.3L693.3,633.3L690,636.7L690.8,642.5L694.2,646.7L696.7,651.7L697.5,651.5L699,650L701,647L704,647.5L706,650L708.5,651L710,648L711.5,646L714,643.5L716.5,645L719,644L720,642.5L723,643.5L725.5,645L724,648.5L725.5,652L728.5,653L727.5,656L725,658L723.5,662L722,665L720,668.5L720,671L722.5,672L723.5,669L728,668L728.5,672L728.5,676L730,678L733,676L737,675.5L739,673L741,669L744,667.5L748,668L751,669L753,672L755,670L755.5,667L754,665L756.5,663L760,661L763,662L766,663.5L770,664L773.5,662.5L774.4,662.1L774.2,661.7L772.5,658.3L773.3,651.7L777.5,646.7L774.2,645L775.8,640L773.3,635L771.7,628.3L769.2,622.5L767.5,616.7L770,611.7L774.2,608.3L778.3,603.3L777.5,597.5L775.8,591.7L774.2,587.5Z"/></clipPath><clipPath id="c-jiangxi"><path d="M850,580L845.8,578.3L841.7,577.5L835.8,573.3L831.7,570.8L828.3,573.3L824.2,576.7L822.5,574.2L825,569.2L822.5,567.5L817.5,570.8L812.5,572.5L806.7,573.3L800,572.5L795.8,575L790.8,577.5L785,581.7L779.2,584.2L774.2,586.7L773.9,586.8L774.2,587.5L775.8,591.7L777.5,597.5L778.3,603.3L774.2,608.3L770,611.7L767.5,616.7L769.2,622.5L771.7,628.3L773.3,635L775.8,640L774.2,645L777.5,646.7L773.3,651.7L772.5,658.3L774.2,661.7L774.4,662.1L774.9,663.1L777,664L781,663.5L784,662.5L787.5,665.5L786,669L783,671L780.5,674L778,678L781,680.5L785,680L789,678.5L793,677.5L796,676.5L800,675.5L803,677.5L805,680L807,678L807.5,674.1L806.7,674.2L808.3,668.3L810,661.7L813.3,655L816.7,650.8L818.3,645L817.5,640L820,633.3L825,630L830,626.7L829.2,623.3L830.8,617.5L833.3,613.3L837.5,610L840.8,612.5L845.8,610L850,606.7L854.2,604.2L852.5,598.3L850,591.7L846.7,585Z"/></clipPath><clipPath id="c-zhejiang"><path d="M887,632L887.5,631.2L890,626.2L895,623.8L900,616.2L903.8,611.2L908.8,607.5L911.8,601.4L916.2,598.8L915,592.5L917.5,585L916.2,577.5L920,573.8L917.5,568.8L917.5,562.5L912.5,561.2L905,557.5L900,556.2L903.2,554.7L902.5,554.2L899.2,550L897.5,545L898.3,548.3L895,550L891.7,553.3L889.2,551.7L883.3,547.5L878.3,545L875.8,546.7L874.2,551.7L870,555L869.2,560L864.2,562.5L861.7,566.7L860.8,571.7L856.7,575L852.5,579.2L850,580L846.7,585L850,591.7L852.5,598.3L854.2,604.2L859.2,605L860.8,611.7L862.5,619.2L866.7,620.8L873.3,617.5L876.7,621.7L880,624.2L885,622.5L889.2,624.2L888.3,628.3L886.7,631.7Z"/></clipPath><clipPath id="c-fujian"><path d="M832.3,701.3L836.2,698.8L841.2,692.5L846.2,686.2L850,681.2L855,678.8L860,673.8L863.8,668.8L867.5,666.2L872.5,662.5L877.5,658.8L880,653.8L877.5,648.8L881.2,643.8L880,638.8L883.8,637.5L887,632L886.7,631.7L888.3,628.3L889.2,624.2L885,622.5L880,624.2L876.7,621.7L873.3,617.5L866.7,620.8L862.5,619.2L860.8,611.7L859.2,605L854.2,604.2L850,606.7L845.8,610L840.8,612.5L837.5,610L833.3,613.3L830.8,617.5L829.2,623.3L830,626.7L825,630L820,633.3L817.5,640L818.3,645L816.7,650.8L813.3,655L810,661.7L808.3,668.3L806.7,674.2L808.1,671.5L807.5,674L807.5,674.1L811.7,673.3L816.7,675L822.5,676.7L825.8,681.7L827.5,688.3L829.2,695L831.7,700Z"/></clipPath><clipPath id="c-guangdong"><path d="M697.5,742.3L698.8,742L699.5,746.2L697,752.5L697.5,760L700,768L712.5,765.5L713.8,760L710,755L706.2,756.2L705.5,751.2L710,748.8L712.5,750L711.2,746.2L715,742.5L722.5,743.8L727.5,742L733.8,738.8L740,737L745,737.5L748.8,740L751.2,736.2L755,735L758.8,733.8L761.2,731.2L766.2,730L770,726.2L773.8,723.8L776.2,726.2L780,722.5L785,719.5L790,717.5L796.2,715.5L802.5,717.5L805,713.8L812.5,712.5L818.8,710L823.8,706.2L827.5,702.5L831.2,702L832.3,701.3L831.7,700L829.2,695L827.5,688.3L825.8,681.7L822.5,676.7L816.7,675L811.7,673.3L807.5,674.1L807,678L805,680L803,677.5L800,675.5L796,676.5L793,677.5L789,678.5L785,680L781,680.5L778,678L780.5,674L783,671L786,669L787.5,665.5L784,662.5L781,663.5L777,664L774.9,663.1L773.5,662.5L770,664L766,663.5L763,662L760,661L756.5,663L754,665L755.5,667L755,670L753,672L751,669L748,668L744,667.5L741,669L739,673L737,675.5L738.5,679L739,683L737.5,686L736,690L734,694L731,697L729,701L727.5,705L727,709L728,712L725.5,715L722.5,717.5L719,719.5L716,721L714.5,724L714,728L710,728.5L708.5,731L708.5,735L706.5,737L702,738.5L699,740Z"/></clipPath><clipPath id="c-guangxi"><path d="M620.8,705.8L622.5,710L630,712.5L640,715L643.8,722.5L641.2,727.5L645,733.8L655,737.5L656.2,740.5L670,742L677.5,741.2L686.2,744.5L693.8,743L697.5,742.3L699,740L702,738.5L706.5,737L708.5,735L708.5,731L710,728.5L714,728L714.5,724L716,721L719,719.5L722.5,717.5L725.5,715L728,712L727,709L727.5,705L729,701L731,697L734,694L736,690L737.5,686L739,683L738.5,679L737,675.5L733,676L730,678L728.5,676L728.5,672L728,668L723.5,669L722.5,672L720,671L720,668.5L722,665L723.5,662L725,658L727.5,656L728.5,653L725.5,652L724,648.5L725.5,645L723,643.5L720,642.5L719,644L716.5,645L714,643.5L711.5,646L710,648L708.5,651L706,650L704,647.5L701,647L699,650L697.5,651.5L697,652L696.9,652.1L696.7,651.7L693.3,652.5L688.3,654.2L684.2,656.7L680,659.2L675.8,660L670.8,661.7L667.5,665.8L663.3,667.5L658.3,665L655,661.7L651.7,659.2L647.5,663.3L643.3,667.5L638.3,670L633.3,672.5L628.3,675L623.3,675.8L618.3,673.3L613.3,672.5L608.3,676.7L603.3,679.2L605.8,682.5L610.8,681.7L615,684.2L616.7,688.3L622.5,690L626.7,689.2L630.8,690L634.2,694.2L632.5,699.2L628.3,702.5L624.2,704.2Z"/></clipPath></defs>
<g clip-path="url(#c-gansu)">
<path d="M555.8,383.3L565,379.7L572.5,381.7L581.7,378.3L588.3,375L595.8,374.7L599.2,383.3L594.2,388.3L590,393.3L584.2,397.5L583.7,403.3L585,408.3L590,411.7L588.3,418.3L586.7,425L590,430L595,433.3L598.3,438.3L601.7,446.7L598.3,453.3L593.3,450L588.3,446.7L583.3,445L578.3,441.7L573.3,436.7L570,430L566.7,423.3L563.3,416.7L560,410L560.8,403.3L565,400L568.3,395L566.7,388.3L561.7,386.7Z" fill="#FFFFE5"/>
<path d="M588.3,418.3L590,411.7L595.8,415.8L600.8,417.5L605.8,420L610,423.3L615.8,428.3L618.3,436.7L620.8,441.7L619.2,448.3L620,453.3L616.7,456.7L611.7,456.7L610,451.7L605,446.7L601.7,446.7L598.3,438.3L595,433.3L590,430L586.7,425Z" fill="#FFF8C0"/>
<path d="M643,423L654.5,423L655,426L660.5,429L666.5,432.5L672.5,435L679,437L680,442L679,447L676.5,450L677.5,455L678,462L670,462L664,462.5L661,462.5L659,460L655,458L650,456L645.5,453L647.5,448L646.5,444L643.5,441L639.5,440L637.5,436L638.5,433.5L641,431L640,428Z" fill="#FFFFE5"/>
</g>
<g clip-path="url(#c-im)">
<path d="M860,226L880,228L879,240L876,248L884,252L894,258L906,266L914,274L922,277L925,279L932,277L938,274L942,280L944.4,288L942.4,293L949,295.6L946.4,302.4L940,304.4L932,307.4L924,308.4L916,310.4L908,314.4L900,318.4L896,312L890,306L889,300L894,292L896,284L890,276L882,266L872,258L866,262L860,270Z" fill="#FFFFE5"/>
<path d="M720,297L728,293L737,288L734,282L728,275L731,268L736,260L744,261L754,264L764,266L772,263L780,258L786,253L798,252.6L804,250L810,247L815,244L816,239L822,235L830,233L836,229L844,228L852,226L860,225L870,227L881,228L879,238L876,248L880,250L888,252L894,255L900,260L900,318L894,318L890,306L892,296L896,286L894,276L886,268L878,262L872,258L866,264L862,272L852,276L844,280L834,279L828,284L824,292L818,297L820,306L826,311L827.6,318L820,322.4L814,325.6L809,329L800,331L790.4,331.6L789.6,322.4L784,320.6L778,322.4L772,321L762,322L756,320L750,312L742,308L734,304L726,298Z" fill="#FFFFE5"/>
<path d="M660,314.4L672,314L684,313.4L693,314L693,322L690,328L694,336L698,344L699,349L692,353L684,353L676,350L668,348L660,347.6Z" fill="#FEE79A"/>
<path d="M693,314L696,311L710,308L714,316L720,324L726,330L728,336L720,338L714,337L712,344L716,350L720,355L718,358L710,355L700,354L692,353L699,349L698,344L694,336L690,328L693,322Z" fill="#FFFFE5"/>
<path d="M610,322L640,312L660,308L695,308L693,322L690,328L694,336L698,344L699,349L692,353L684,353L676,350L668,348L660,347.6L656.7,348.3L650,353.3L646.7,359L638.3,355L633.3,351.7L623.3,345L618.3,338.3L615.8,330Z" fill="#FEE79A"/>
</g>
<g clip-path="url(#c-hlj)">
<path d="M968.8,180L980,183L987.5,184.5L987.5,193.8L997.5,196.2L1000,202.5L997.5,212.5L980,213.8L967.5,212.5L960,216.2L952.5,222.5L950,230L952.5,240L937.5,238.8L930,232.5L922.5,215L940,200L955,190L962.5,200Z" fill="#FFFFE5"/>
<path d="M1010,229L1020,228L1030,230L1040,230L1050,229L1064,229L1062,238L1052,243L1046,250L1042,258L1038,266L1032,272L1026,282L1018,280L1014,272L1008,270L1006,261L1000,259L992,260L983,258L987,252L994,247L998,238L1004,233Z" fill="#FFFFE5"/>
</g>
<g clip-path="url(#c-jilin)">
<path d="M960,250L972,251L980,251L985,256L992,258L1000,257L1008,259L1010,269L1007,272L1000,272L996,278L990,280L986,286L988,293L984,297L978,292L972,293L969,296L966,289L958,288L950,286L944,280L940,279L939,270L944,264L950,260L958,255Z" fill="#FFFFE5"/>
<path d="M1032,271L1036,280L1042,290L1048,286L1057,284L1061,282L1068,282L1070,288L1078,291L1087,293L1085,303L1079,306L1074,318L1064,306L1059,305L1057,315L1050,317L1044,322L1036,324L1027,326L1024,316L1020,309L1016,302L1019,294L1022,288L1023,280L1027,279Z" fill="#FFFFE5"/>
</g>
<g clip-path="url(#c-liaoning)">
<path d="M879.4,364.8L885,362.5L891.2,360L897.5,351.2L902.5,347.5L910,347L916.2,348.8L922,353.8L920,357.5L915,361.2L910,367.5L906.2,371.2L904.5,375L907.5,378.8L911.2,382.5L902.5,386.2L902,389.5L911.2,386.2L916.2,382.5L922.5,378.8L927.5,376.2L935,372.5L945,368.8L955,368L960,363.8L967.5,358.8L973.8,353.8L980,348.8L984.3,346.6L984.4,346L985,343L983,336L980,328L979,321L975,316L971,308L968,301L963,305L958,300L952,296L948,295L946,302L940,304L932,307L924,308L916,310L908,314L900,318L897.6,319.2L893.3,320.8L887.5,325L883.3,330L880.8,325L876.7,319.2L872.5,315.8L868.3,320L870,326.7L870.8,333.3L867.5,338.3L865,341.7L862.5,345.8L866.7,349.2L871.7,352.5L874.2,356.7L876.7,361.7L878.7,364Z" fill="#FFFFE5"/>
<path d="M900,322L910,316L922,312L932,312L930,318L920,322L912,326L904,328Z" fill="#D9D9D9"/>
<path d="M946,340L956,344L964,342L972,341L980,343.6L988,343L984,349L976,353L968,359L958,369L949,367L944,363L949,356L948,348Z" fill="#D9D9D9"/>
<path d="M910,338L920,337L922,340L926,344L930,350L934,356L936,363L928,364L922,360L918,352L914,346Z" fill="#D9D9D9"/>
<path d="M921,334L928,333.6L938,332.6L946.4,333.6L946.4,340L948.4,348L949.4,356L944.4,362.4L936,363.4L934,356L930,350L926,344L922,340Z" fill="#FFF8C0"/>
<path d="M868,349L882,343.6L892,339.6L900,341.6L899,347L892,356L886,362.4L878,365L875,360Z" fill="#D9D9D9"/>
</g>
<g clip-path="url(#c-hebei)">
<path d="M844.5,399.5L842,397L842.8,393.3L839,393L836,392.5L834,394.5L831,392.5L828,391.5L824,390L823,387L824.5,384L826,382L825.5,378.5L824.5,374.5L824.2,373.5L824,374.5L822,372.5L819,373L817,375.5L814,373.5L810,374L808,372.5L804.5,373.5L801.5,372L801,368.5L799.5,365.5L801,363L805,361.5L809,359L807,356L805.5,354L807.5,352L811.5,351L814.5,349L817.5,347L818,344.5L822,343.5L824,346L827,349.5L832,351L835.5,350L837.5,351.5L834.5,353L832.5,354L833,357.5L835,359.5L837.5,361.5L840,362.5L842.5,364L841,365L838.5,364.5L837.5,367L839,370L841.5,372L844,373.5L844.5,376L841.5,376.5L838.5,377.5L840,378.5L844,378L846.5,379.5L849.2,383.3L851.2,381.2L857.5,383.8L863.8,380L870,372.5L875,367.5L878.8,365L879.4,364.8L878.7,364L876.7,361.7L874.2,356.7L871.7,352.5L866.7,349.2L862.5,345.8L865,341.7L867.5,338.3L865,337.5L858.3,337.5L852.5,335.8L849.2,331.7L851.7,326.7L850.8,322.5L846.7,318.3L842.5,311.7L835,311.7L831.7,315L827.5,315L824.2,318.3L825,321.7L820,324.2L815,323.3L810.8,326.7L806.7,325.8L800,329.2L796.7,331.7L790.8,330.8L790,322.5L786.7,320.8L781.7,322.5L777.5,327.5L778.3,332.5L774.2,334.2L771.7,338.3L773.3,341.7L775.8,346.7L776.7,349.2L778.3,355L773.3,363.3L778.3,365.8L782.5,369.2L781.7,378.3L778.3,382.5L773.3,384.2L770.8,390L766.7,395L770,401.7L773.3,406.7L775.8,413.3L773.3,420L770,425.8L768.3,430.8L765,433.3L766.7,437.5L769.2,439.2L775,440L783.3,442.5L791.7,443.3L799,445L800.5,442L797.5,437.5L799.5,432L804,428L807.5,422L810,418.5L815,416L814.5,414.5L820,410.5L824,408.5L836,408L840,402.5Z" fill="#FFFFE5"/>
<path d="M808.3,330.8L810.8,325.8L815,322.5L820,323.3L825,320.8L824.2,317.5L827.5,314.2L831.7,314.2L835,310.8L842.5,310.8L847.5,317.5L851.7,322.5L852.5,326.7L850,331.7L852.5,335L858.3,336.7L865,336.7L868.3,338.3L865,341.7L862.5,345.8L864.2,350.8L856.7,354.2L850,355.8L843.3,358.3L838.3,358.3L833.3,355.8L832.5,351.7L828.3,348.3L823.3,345L820,343.3L815,345L813.3,338.3L810.8,334.2Z" fill="#FFF8C0"/>
<path d="M857,357.5L860,354.5L865,352.5L870,352.5L875,355L876.5,358.5L878,361.5L880,364L876,365.5L872.5,368L870.5,370.5L868.5,373.5L865,374L861.5,372L859.5,369L861.5,365L862,361L859,359.5Z" fill="#D9D9D9"/>
<path d="M813,375L817,375.5L819,373L822,372.5L824.5,374.5L826,378.5L826.5,382L825,384L823.5,387L822.5,392L819.5,394.5L817,392L816.5,388L814.5,386L814,380Z" fill="#D9D9D9"/>
<path d="M764.7,431.7L769.1,426.8L776.7,428.4L784.2,428.4L790.7,426.2L796.7,427.3L799.4,431.7L798.3,437.1L799.4,442.5L791.8,444.1L785.3,443L776.7,440.9L769.6,439.8L766.4,437.1Z" fill="#D9D9D9"/>
</g>
<g clip-path="url(#c-beijing)">
<path d="M835,359.5L833,357.5L832.5,354L834.5,353L837.5,351.5L835.5,350L832,351L827,349.5L824,346L822,343.5L818,344.5L817.5,347L814.5,349L811.5,351L807.5,352L805.5,354L807,356L809,359L805,361.5L801,363L799.5,365.5L801,368.5L801.5,372L804.5,373.5L808,372.5L810,374L814,373.5L817,375.5L819,373L822,372.5L824,374.5L824.2,373.5L824.5,372.5L826.5,371.5L827,368.5L825,366.5L824,364L830,363.2L831,363.5L833,361.5Z" fill="#FFFFE5"/>
</g>
<g clip-path="url(#c-tianjin)">
<path d="M842.8,393.3L843.8,388.8L849.2,383.3L846.5,379.5L844,378L840,378.5L838.5,377.5L841.5,376.5L844.5,376L844,373.5L841.5,372L839,370L837.5,367L838.5,364.5L841,365L842.5,364L840,362.5L837.5,361.5L835,359.5L833,361.5L831,363.5L832,366.5L831.5,369.5L830,372L826.5,371.5L824.5,372.5L824.2,373.5L824.5,374.5L825.5,378.5L826,382L824.5,384L823,387L824,390L828,391.5L831,392.5L834,394.5L836,392.5L839,393Z" fill="#FFFFE5"/>
</g>
<g clip-path="url(#c-langfang)">
<path d="M820,360L836,360L836,374L820,374Z" fill="#D9D9D9"/>
</g>
<g clip-path="url(#c-shanxi)">
<path d="M740,365.8L734.2,370L728.3,371.7L724.2,376.7L723.3,380L720.8,385L719.2,390.8L715,395.8L711.7,401.7L712.5,408.3L715.8,413.3L714.2,420L710.8,425L710,433.3L711.7,441.7L710.8,450L711.7,456.7L707.5,465.8L706.7,473.3L708.3,475.8L716.7,473.3L725,470.8L733.3,467.5L740,463.3L748.3,461.7L755,460L761.7,457.5L767.5,454.2L768.3,446.7L769.2,439.2L766.7,437.5L765,433.3L768.3,430.8L770,425.8L773.3,420L775.8,413.3L773.3,406.7L770,401.7L766.7,395L770.8,390L773.3,384.2L778.3,382.5L781.7,378.3L782.5,369.2L778.3,365.8L773.3,363.3L778.3,355L776.7,349.2L774.2,352.5L768.3,354.2L761.7,356.7L755,359.2L750,358.3L744.2,360Z" fill="#FFFFE5"/>
<path d="M720.3,373.2L735.5,371L737.7,376.4L743.1,380.7L748.5,381.8L755,378.6L761.5,377L768,376.4L773.4,378L774.5,382.9L771.2,386.2L768.5,391.6L765.8,395.9L768,400.2L772.3,405.7L776.7,412.2L774,417.6L771.2,423L769.1,429.5L764.7,432.2L761.5,428.4L757.2,427.3L752.8,425.2L748.5,424.1L744.2,425.7L740.9,426.2L738.7,430.6L740.9,436L745.2,439.2L747.4,442.5L746.3,445.7L742,447.9L737.7,452.2L735.5,454.4L731.2,453.3L726.8,451.2L721.4,452.2L717.1,453.3L712.2,452.2L711.1,446.8L710,439.2L708.4,431.7L710,428.4L717.1,428.4L723.6,429.5L727.9,427.3L733.3,423L738.7,419.7L742,416.5L748.5,412.2L750.7,406.7L755,402.4L757.2,398.1L752.8,399.2L748.5,400.2L742,401.3L735.5,400.2L733.3,395.9L729,393.7L724.7,392.7L722.5,390.5L719.2,386.2L720.3,380.7Z" fill="#D9D9D9"/>
<path d="M738.7,462L746.3,462.5L755,460.9L761.5,457.7L764.7,458.7L766.4,464.2L763.7,467.4L757.2,468.5L750.7,467.4L744.2,466.3L739.8,464.2Z" fill="#D9D9D9"/>
<path d="M716,476.1L722.5,471.7L731.2,467.4L735.5,466.3L737.7,470.7L735.5,476.1Z" fill="#D9D9D9"/>
</g>
<g clip-path="url(#c-shaanxi)">
<path d="M628.8,508.8L629.4,503.8L626.2,501.2L628.1,497.5L631.2,495.6L636.2,495.6L640,496.9L642.5,492.5L647.5,490L653.8,491.2L660,492.5L666.2,493.8L668.8,498.8L668.8,505L670,512.5L669.4,520L665,522.5L660,520.6L656.2,518.1L654.4,519.4L650.6,518.1L648.1,514.4L643.8,513.1L640,515L636.2,514.4L631.9,511.9Z" fill="#FEE79A"/>
<path d="M660,465L666.7,461.7L678.3,461.7L681.7,456.7L686.7,453.3L693.3,450L700,446.7L706.7,445L711.7,450L712.5,456.7L708.3,465.8L707.5,474.2L700,475L693.3,476.7L690,481.7L683.3,485L676.7,486.7L670,490L663.3,492.5L659.2,490L662.5,485L664.2,480L663.3,471.7Z" fill="#FFFFE5"/>
<path d="M660.5,462L664,461.5L670,461L677,461L680,458L682,460L680,463L678,467L682,470L687,472L685,475L682,478L678,481L672,482L667,481L665.5,477L666,472L664,467Z" fill="#FFF8C0"/>
</g>
<g clip-path="url(#c-ningxia)">
<path d="M630,385.8L634.2,379.2L640,376.7L645.8,377.5L648.3,383.3L647.5,387.5L643.3,391.7L638.3,390L633.3,388.3Z" fill="#FECE65"/>
<path d="M627.5,403.3L630.8,400L635,401.7L636.7,408.3L641.7,411.7L643.3,406.7L644.2,401.7L650,402.5L655,405L660,408.3L657.5,411.7L655,416.7L654.7,422.5L641.7,424.2L638.3,430L635,433.3L631.7,430L630.8,425L626.7,428.3L623.3,423.3L628.3,420L630,413.3L627.5,410Z" fill="#FEE79A"/>
</g>
<g clip-path="url(#c-shandong)">
<path d="M868,466.8L867.5,466.2L875,460L878.8,455L885,449.5L890,445L897.5,437.5L905,432.5L913.8,428.8L921.2,426.2L927.5,426.2L930,418L925,417L916.2,415L910,413.8L905,411.2L900,410L895,408L890,410L885,412L880,416.2L876.2,421.2L870,422.5L863.8,420L862.5,415L867.5,411.2L865,403.8L855,402.5L846.2,401.2L844.5,399.5L840,402.5L836,408L824,408.5L820,410.5L814.5,414.5L815,416L810,418.5L807.5,422L804,428L799.5,432L797.5,437.5L800.5,442L799,445L798.5,449L804,447.5L810,444.5L811.5,445L807,448L803,450L801,450L799.5,454L793,460L789.2,465L790,466.7L795.8,468.3L798.3,470.8L800.8,475L808.3,475L814.2,475.3L817.5,470.8L821.7,469.2L825.8,470.8L828.3,475L831.7,477.5L836.7,475.8L841.7,474.2L846.7,473.3L850,477.5L854.2,474.2L858.3,471.7L860,467.5L864.2,465.8L867.5,466.7Z" fill="#FFFFE5"/>
<path d="M844.2,400L853.3,401.7L863.3,402.5L867.5,408.3L863.3,415L868.3,420L875,423.3L876.7,431.7L880,436.7L876.7,443.3L875,450L873.3,456.7L870,463.3L865,465L860,460L858.3,453.3L861.7,446.7L858.3,441.7L853.3,443.3L850,436.7L850,430L846.7,423.3L841.7,420L836.7,418.3L833.3,413.3L838.3,408.3Z" fill="#D9D9D9"/>
<path d="M820,441.7L826.7,440L833.3,436.7L838.3,441.7L843.3,446.7L840,451.7L833.3,450L826.7,448.3L821.7,446.7Z" fill="#D9D9D9"/>
<path d="M797.5,433.3L806.7,427.5L815,426.7L818.3,433.3L815,440L810,443.3L803.3,446.7L798.3,449.2L799.2,441.7Z" fill="#D9D9D9"/>
<path d="M826.7,463.3L833.3,460L838.3,465L841.7,471.7L840,477.5L833.3,477.5L830,470Z" fill="#D9D9D9"/>
</g>
<g clip-path="url(#c-henan)">
<path d="M708.3,475.8L710.8,483.3L714.2,490L718.3,495L720.8,502.5L725,508.3L730,515L735,520L738,522L740,521.7L746.7,520.8L755,520L761.7,522.5L767.5,520.8L770,526.7L774.2,530.8L779.2,532.5L783.3,535.8L788.3,537.5L794.2,536.7L799.2,539.2L804.2,535L807.5,531.7L809.2,526.7L808.3,520.8L805,518.3L799.2,516.7L795.8,514.2L795.8,510L791.7,508.3L790.8,505L794.2,504.2L798.3,501.7L800.8,496.7L803.3,493.3L802.5,489.2L805,485.8L809.2,488.3L813.3,491.7L819.2,489.2L820,485.8L816.7,481.7L813.3,477.5L814.2,475.3L808.3,475L800.8,475L798.3,470.8L795.8,468.3L790,466.7L789.2,465L793,460L799.5,454L801,450L803,450L807,448L811.5,445L810,444.5L804,447.5L798.5,449L799,445L791.7,443.3L783.3,442.5L775,440L769.2,439.2L768.3,446.7L767.5,454.2L761.7,457.5L755,460L748.3,461.7L740,463.3L733.3,467.5L725,470.8L716.7,473.3Z" fill="#FFFFE5"/>
<path d="M716.7,493.3L728.3,492.5L736.7,494.2L745,493.3L753.3,496.7L763.3,498.3L770,496.7L778.3,493.3L778.3,486.7L778.3,481.7L786.7,481.7L795,483.3L802.5,486.7L802.5,496.7L796.7,501.7L790.8,505L795,511.7L800,516.7L807.5,518.3L810,526.7L803.3,535L800,538.3L793.3,540L783.3,536.7L775,533.3L770,526.7L768.3,521.7L760,520L750,518.3L740,518.3L730,513.3L723.3,506.7L716.7,501.7Z" fill="#FFF8C0"/>
<path d="M775,446.7L778.3,445L780,450L786.7,450L783.3,453.3L778.3,455L775,451.7Z" fill="#D9D9D9"/>
<path d="M758.3,481.7L763.3,479.2L771.7,480.8L778.3,481.7L778.3,486.7L773.3,488.3L768.3,491.7L763.3,490L760,486.7Z" fill="#D9D9D9"/>
<path d="M716.7,468.3L726.7,466.7L735,468.3L736.7,473.3L730,476.7L723.3,478.3L716.7,486.7Z" fill="#D9D9D9"/>
<path d="M704,472L716,474L722,480L728,483L735,481L737,487L730,492L722,496L722,505L715,500L708,485Z" fill="#D9D9D9"/>
</g>
<g clip-path="url(#c-jiangsu)">
<path d="M916.5,535.7L917.5,530L912.5,523.8L907.5,520L903.8,515L899.5,510L896.2,500L892.5,490L888.8,481.2L880,477.5L872.5,472.5L868,466.8L867.5,466.7L864.2,465.8L860,467.5L858.3,471.7L854.2,474.2L850,477.5L846.7,473.3L841.7,474.2L836.7,475.8L831.7,477.5L828.3,475L825.8,470.8L821.7,469.2L817.5,470.8L814.2,475.3L815.8,479.2L820,480.8L824.2,477.5L828.3,483.3L833.3,485.8L839.2,487.5L841.7,492.5L848.3,493.3L846.7,498.3L845,503.3L850,505.8L851.7,511.7L855.8,513.3L860,510L864.2,508.3L867.5,512.5L865.8,517.5L860,515.8L856.7,517.5L858.3,521.7L855,525L852.5,528.3L855.8,532.5L860.8,535.8L860,541.7L866.7,543.3L871.7,545L875.8,546.7L878.3,545L883.3,547.5L889.2,551.7L891.7,553.3L895,550L898.3,548.3L897.5,545L900,541.7L903.3,539.2L902.5,535L905,530.8L910,532.5Z" fill="#FFFFE5"/>
<path d="M856.7,517.5L866.7,518.3L876.7,521.7L881.7,526.7L888.3,530L892.5,534.2L891.7,540L885,540L880,536.7L875,540L868.3,541.7L866.7,544.2L860,542.5L860.8,535.8L855.8,532.5L851.7,528.3L855,525L858.3,521.7Z" fill="#FFF8C0"/>
<path d="M891.7,540L900,540L905,530L910,532.5L903.3,540L898.3,548.3L895,550.8L891.7,554.2L889.2,551.7L883.3,547.5L886.7,543.3Z" fill="#FFF8C0"/>
<path d="M856.7,515L863.3,516.7L870,523.3L880,526.7L886.7,530L890,536.7L883.3,540L876.7,538.3L870,541.7L863.3,540L860,536.7L855,530L853.3,523.3Z" fill="#FFF8C0"/>
</g>
<g clip-path="url(#c-anhui)">
<path d="M875.8,546.7L871.7,545L866.7,543.3L860,541.7L860.8,535.8L855.8,532.5L852.5,528.3L855,525L858.3,521.7L856.7,517.5L860,515.8L865.8,517.5L867.5,512.5L864.2,508.3L860,510L855.8,513.3L851.7,511.7L850,505.8L845,503.3L846.7,498.3L848.3,493.3L841.7,492.5L839.2,487.5L833.3,485.8L828.3,483.3L824.2,477.5L820,480.8L815.8,479.2L814.2,475.3L813.3,477.5L816.7,481.7L820,485.8L819.2,489.2L813.3,491.7L809.2,488.3L805,485.8L802.5,489.2L803.3,493.3L800.8,496.7L798.3,501.7L794.2,504.2L790.8,505L791.7,508.3L795.8,510L795.8,514.2L799.2,516.7L805,518.3L808.3,520.8L809.2,526.7L807.5,531.7L804.2,535L799.2,539.2L801.7,542.5L805.8,545.8L810.8,549.2L806.7,555L810,560L811.7,566.7L812.5,572.5L817.5,570.8L822.5,567.5L825,569.2L822.5,574.2L824.2,576.7L828.3,573.3L831.7,570.8L835.8,573.3L841.7,577.5L845.8,578.3L850,580L852.5,579.2L856.7,575L860.8,571.7L861.7,566.7L864.2,562.5L869.2,560L870,555L874.2,551.7Z" fill="#FFF8C0"/>
<path d="M801.7,486.7L808.3,485L815,490.8L820,486.7L816.7,480L824.2,476.7L828.3,482.5L833.3,485L839.2,486.7L842.5,492.5L849.2,493.3L847.5,498.3L845.8,504.2L840,506.7L835,510L830,515L827.5,521.7L826.7,528.3L823.3,530L820,523.3L819.2,516.7L815,511.7L811.7,506.7L808.3,503.3L806.7,496.7Z" fill="#D9D9D9"/>
<path d="M827.5,521.7L830,515L835,510L840,506.7L845,504.2L850,505.8L851.7,511.7L850,518.3L846.7,525L845,530L850,533.3L855.8,533.3L860,536.7L860,541.7L853.3,543.3L846.7,546.7L841.7,545L836.7,548.3L831.7,546.7L828.3,550L830,556.7L826.7,560L823.3,566.7L816.7,570L811.7,567.5L810,560L806.7,555L810.8,549.2L815,548.3L821.7,546.7L826.7,540L823.3,533.3L826.7,528.3Z" fill="#FFFFE5"/>
<path d="M844.2,530L850,528.3L855.8,530.8L860.8,536.7L861.7,542L855.8,540.8L850,536.7L845,534.2Z" fill="#D9D9D9"/>
<path d="M830,548.3L835,546.7L841.7,545L845,550L846.7,556.7L850,561.7L856.7,566.7L862.5,567.5L861.7,571.7L856.7,575.8L852.5,580L846.7,579.2L841.7,577.5L835.8,573.3L831.7,570.8L828.3,573.3L824.2,577.5L822.5,573.3L826.7,566.7L830,560Z" fill="#D9D9D9"/>
</g>
<g clip-path="url(#c-shanghai)">
<path d="M903.2,554.7L905,553.8L912.5,552.5L917,550L917.5,542.5L916.2,537.5L916.5,535.7L910,532.5L905,530.8L902.5,535L903.3,539.2L900,541.7L897.5,545L899.2,550L902.5,554.2Z" fill="#FFF8C0"/>
</g>
<g clip-path="url(#c-hubei)">
<path d="M738,522L735,520L730,515L725,508.3L720.8,502.5L713.3,504.2L703.3,503.3L696.7,503L694.2,504.2L698.3,505.8L699.2,509.2L703.3,510.8L705,515L700,516.7L695,520L694.2,526.7L695,532.5L700,536.7L704.2,540L705,546.7L702.5,550.8L696.7,553.3L690.8,555.8L683.3,557.5L676.7,558.3L674.2,560L675.8,566.7L678.3,571.7L681.7,576.7L685,581.7L688.3,586.7L689.2,583.3L691.7,578.3L696.7,575L703.3,573.3L710,571.7L711.7,567.5L718.3,566.7L725,569.2L731.7,571.7L738.3,573.3L745,575.8L750,577.5L755,573.3L756.7,578.3L763.3,575L768.3,573.3L770.8,578.3L770,586.7L773,587.3L773.9,586.8L774.2,586.7L779.2,584.2L785,581.7L790.8,577.5L795.8,575L800,572.5L806.7,573.3L812.5,572.5L811.7,566.7L810,560L806.7,555L810.8,549.2L805.8,545.8L801.7,542.5L799.2,539.2L794.2,536.7L788.3,537.5L783.3,535.8L779.2,532.5L774.2,530.8L770,526.7L767.5,520.8L761.7,522.5L755,520L746.7,520.8L740,521.7Z" fill="#FEE79A"/>
<path d="M690.8,500.8L701.7,500L711.7,500.8L720.8,500L726.7,510L733.3,515L730,520L725,521.7L721.7,528.3L716.7,531.7L710,531.7L706.7,536.7L708.3,541.7L710,548.3L705,550L698.3,552.5L695,546.7L695.8,538.3L693.3,530L693.3,521.7L698.3,515L705,513.3L704.2,508.3L698.3,506.7L692.5,505Z" fill="#FFF8C0"/>
<path d="M705.8,534.2L710,531.7L716.7,532.5L717.5,537.5L711.7,540L706.7,539.2Z" fill="#D9D9D9"/>
<path d="M673.3,558.3L681.7,555.8L690,555L698.3,552.5L705,550L710,553.3L710,561.7L712,568.3L708.3,572.5L701.7,575.8L695.8,579.2L690,584.2L685,588.3L679.2,580.8L675.8,571.7L673.3,565Z" fill="#FFFFE5"/>
<path d="M737.5,540L743.3,537.5L751.7,536.7L760,539.2L764.2,543.3L761.7,549.2L756.7,550.8L750.8,552.5L748.3,556.7L743.3,558.3L740,553.3L738.3,546.7Z" fill="#FEAC3A"/>
<path d="M726.7,563.3L733.3,561.7L740,560L746.7,561.7L750.8,565.8L755.8,564.2L760,561.7L766.7,563.3L773.3,565L777.5,566.7L775.8,570.8L769.2,574.2L766.7,572.5L761.7,577.5L755.8,575L750.8,576.7L745,575.8L740,574.2L735,571.7L730,569.2L726.7,567.5Z" fill="#FECE65"/>
<path d="M747.5,557.5L750.8,555.8L755,558.3L755.8,564.2L750.8,565.8L747.5,561.7Z" fill="#E1640E"/>
<path d="M767.5,570L773.3,567.5L780,568.3L786.7,570L790,575L786.7,580L780,582.5L775,585.8L770.8,588.3L768,583.3L768.7,576.7Z" fill="#FEAC3A"/>
<path d="M784.2,556.7L788.3,555.8L790,561.7L786.7,564.2L784.2,561.7Z" fill="#D9D9D9"/>
</g>
<g clip-path="url(#c-chongqing)">
<path d="M676.1,524.5L675.6,524.4L672.5,528.8L675.6,533.8L673.8,537.5L670,541.2L667.5,545.6L665,550L660.6,551.9L657.5,555L656.2,558.8L653.1,563.1L650,566.9L645,568.1L641.2,563.1L636.2,563.1L632.5,561.9L627.5,560.6L623.8,564.4L625,568.8L622.5,572.5L618.1,576.9L619.4,581.2L624.4,583.8L626.2,586.9L626.9,590L626.9,590L630,590.8L635,589.2L637.5,594.2L638.3,597.5L641.7,594.2L645.8,595.8L650,592.5L655,590.8L656.7,585.8L663.3,586.7L670.8,588.3L673.3,593.3L676.7,600L677.5,605L681.7,603.3L686.7,606.7L689.4,612L690,606.7L688.3,600L689.2,593.3L688.3,586.7L685,581.7L681.7,576.7L678.3,571.7L675.8,566.7L674.2,560L676.7,558.3L683.3,557.5L690.8,555.8L696.7,553.3L702.5,550.8L705,546.7L704.2,540L700,536.7L695,532.5L690.8,533.3L685,530.8L680,526.7Z" fill="#FEAC3A"/>
<path d="M675.3,533.3L672,526.7L676,524L681.3,526.7L686,529.3L690.7,532L696,532.7L701.3,536.7L705.3,541.3L706.7,546.7L704.7,552L700,553.3L696,554.7L690.7,556L685.3,556.7L678.7,558L674.7,560L670.7,560L666.7,562.7L662.7,560L660,553.3L665.3,550.7L666.7,545.3L672,537.3Z" fill="#F68720"/>
<path d="M624.7,559.3L631.3,561.3L636,562.7L642,563.3L640,568L636,572L634.7,577.3L636,582.7L640,585.3L638.7,590.7L638,600L635.3,593.3L632,591.3L627.3,590L624.7,586L619.3,583.3L617.3,577.3L620.7,573.3L622.7,569.3L621.6,565.3Z" fill="#C14702"/>
<path d="M666.7,562.7L670.7,560L674.7,559.3L677.3,561.3L676,566.7L678,570.7L681.3,573.3L683.3,577.3L686.7,581.3L690.7,578.7L690,586.7L690,594.7L689.3,600L686.7,606L681.3,604L678.7,602L676,596.7L673.3,592.7L672,588.7L668,588L665.3,584L666.7,578.7L666.7,573.3L668,568Z" fill="#FECE65"/>
</g>
<g clip-path="url(#c-sichuan)">
<path d="M555.6,502.5L548.8,502.5L543.8,503.8L543.1,508.1L545,511.9L540,515L535,516.2L531.9,513.8L530,512.5L527.5,513.3L523.3,510.2L520.2,507.1L518.1,511.2L511.9,510.2L508.8,507.1L502.5,502.9L500.4,496.7L496.2,492.5L495.2,486.2L490,484.2L484.8,483.1L480.6,486.2L476.5,490.4L477.5,498.8L478.5,505L475.4,510.2L477.1,515.8L477.5,516L481.7,518.5L489,523.8L493.1,529L497.3,535.2L500.4,540.4L498.3,544.6L502.5,550.8L504.6,559.2L505.6,567.5L506.7,575.8L507.7,585.2L507.1,590.4L509.8,596.7L511.9,602.9L516,594.6L520.2,597.7L523.3,602.9L526.5,608.1L531.7,612.3L534.8,617.5L540,621.7L542.1,630L543.3,628.3L548.3,635L550,638.3L552.5,644.2L556.7,648.3L563.3,646.7L570,644.2L575.8,643.3L577.5,636.7L575,630L574.2,623.3L577.5,620L581.7,615.8L584.2,609.2L587.5,605L590.8,602.5L591.7,598.3L596.7,596.7L600.8,596.7L601.7,601.7L600.8,606.7L603.3,610.8L608.3,611.7L612.5,609.2L615.8,608.3L617.5,613.3L623.3,614.2L630,613.3L635.8,610.8L635,606.7L630,605L625.8,603.3L624.2,599.2L629.2,595.8L635,596.7L638.3,597.5L637.5,594.2L635,589.2L630,590.8L626.9,590L626.9,590L626.2,586.9L624.4,583.8L619.4,581.2L618.1,576.9L622.5,572.5L625,568.8L623.8,564.4L627.5,560.6L632.5,561.9L636.2,563.1L641.2,563.1L645,568.1L650,566.9L653.1,563.1L656.2,558.8L657.5,555L660.6,551.9L665,550L667.5,545.6L670,541.2L673.8,537.5L675.6,533.8L672.5,528.8L675.6,524.4L674.7,523.7L673.5,523.1L668.8,522.5L664.4,521.9L660,520L656.2,517.5L654.4,518.8L650.6,517.5L648.1,513.8L643.8,512.5L640,514.4L636.2,513.8L631.9,511.2L628.8,508.1L625.6,509.4L620,510L620,513.1L616.2,515L610,515L603.8,513.8L599.4,510L601.9,508.1L601.2,505L602.5,501.2L600,500L598.1,496.9L595,493.8L588.8,493.1L583.8,491.2L579.4,490L578.1,483.8L576.2,481.2L573.8,480.6L570,483.8L566.2,486.9L561.9,487.5L563.8,490L565.6,492.5L567.5,496.9L564.4,498.8L560,501.2Z" fill="#FEAC3A"/>
<path d="M529.3,516.7L534.7,515.3L542.7,514.7L544,507.3L542.7,503.3L549.3,502L556,503.3L558.7,498L566.7,496.7L562.7,478L586.7,478L606.7,478L606.7,506L602.7,506.7L600,508.7L596,507.3L593.3,508.7L596,514L592,516.7L593.3,520.7L590.7,526L593.3,530L596,534L592,536.7L588,540.7L582.7,546L578.7,550L576,552.7L570.7,552.7L565.3,555.3L560,554L561.3,548.7L556,543.3L549.3,540.7L541.3,536.7L540,528.7L534.7,523.3Z" fill="#D9D9D9"/>
<path d="M471.2,488.3L480.6,482.1L490,480L495.2,484.2L497.3,492.5L501.5,496.7L503.5,502.9L508.8,507.1L511.9,510.2L518.1,511.2L520.2,507.1L523.3,510.2L527.5,513.3L533.8,515.4L537.9,523.8L542.1,530L548.3,538.3L556.7,544.6L560.8,548.8L565,555L562.9,561.2L558.8,567.5L556.7,573.8L558.8,580L552.5,584.2L544.2,582.1L537.9,586.2L533.8,592.5L531.7,600.8L529.6,608.1L526.5,609.2L519.2,597.7L511.9,604L502.5,590.4L500.4,546.7L471.2,513.3Z" fill="#FEE79A"/>
<path d="M497.3,498L505.3,506L512,510L517.3,512.7L520.7,507.3L525.3,514L532,516.7L534.7,523.3L540,528.7L541.3,536.7L549.3,540.7L556,543.3L561.3,548.7L560,554L565.3,555.3L566.7,564.7L564,570L564,575.3L558.7,580.7L560,586L562.7,588.7L556,594L550.7,599.3L545.3,595.3L541.3,588.7L537.3,586L533.3,590L532,596.7L529.3,604.7L526.7,611.3L520,607.3L513.3,610L505.3,604.7L497.3,583.3Z" fill="#FEE79A"/>
<path d="M565.3,555.3L570.7,552.7L576,552.7L578.7,556.7L577.3,562L580,567.3L576,572.7L574,578L576,582L574.7,587.3L570.7,584.7L566.7,588.7L562.7,588.7L560,586L558.7,580.7L564,575.3L564,570L566.7,564.7Z" fill="#FECE65"/>
<path d="M578.7,556.7L582.7,552.7L588,552.7L593.3,555.3L598.7,556.7L604,559.3L605.3,562L602.7,566L606.7,568.7L612,570L616,574L617.3,579.3L613.3,580.7L606.7,576.7L600,575.3L596,576.7L593.3,572.7L588,570L582.7,572.7L578.7,576.7L574,578L576,572.7L580,567.3L577.3,562Z" fill="#F68720"/>
<path d="M592,536.7L596,534L601.3,539.3L606.7,542L609.3,547.3L613.3,552.7L614.7,558L618.7,562L622.7,563.3L624,567.3L620,571.3L616,574L612,570L606.7,568.7L602.7,566L605.3,562L609.3,559.3L608,554L604,550L598.7,548.7L594.7,544.7Z" fill="#E1640E"/>
<path d="M615.3,546L620,546.7L624,550L626.7,555.3L628,559.3L624,562L620,562.7L616,559.3L614,555.3L616,551.3Z" fill="#C14702"/>
<path d="M596,576.7L600,575.3L606.7,578.7L613.3,580.7L616.7,584.7L616,588.7L610.7,588L606.7,584.7L601.3,583.3L597.3,582Z" fill="#C14702"/>
<path d="M632,555.3L637.3,553.3L644,553.3L649.3,556.7L653.3,560.7L651.3,564.7L646.7,567.3L642.7,566L640,563.3L636,562.7L632,560.7L628,559.3Z" fill="#E1640E"/>
<path d="M576,582L580,575.3L585.3,574L590.7,575.3L596,576.7L597.3,582L596,587.3L593.3,591.3L590.7,596.7L586.7,599.3L582.7,596.7L578.7,595.3L576,591.3L574.7,587.3Z" fill="#FECE65"/>
<path d="M617.3,587.3L621.3,583.3L626.7,586L628,591.3L625.3,596.7L632,600.7L637.3,606L638,611.3L630.7,614L625.3,615.3L620,616L617.3,610L618,603.3L616,596.7Z" fill="#FECE65"/>
<path d="M605.3,516.7L606.7,503.3L633.3,500.7L640,510L643.3,516.7L641.3,522L638.7,527.3L633.3,531.3L628,532.7L622.7,535.3L618.7,534L616,528.7L617.3,522L613.3,519.3Z" fill="#FEE79A"/>
<path d="M638.7,527.3L641.3,522L642.7,516.7L646.7,512.7L653.3,514L661.3,515.3L661.3,534L654.7,538L650.7,540.7L646.7,536.7L641.3,534Z" fill="#FECE65"/>
<path d="M548,625L554,623.5L560,626.5L561.5,632.5L558.5,640L557,646L556.2,649.7L552.5,646.7L548,638.5L545,631Z" fill="#FECE65"/>
</g>
<g clip-path="url(#c-yunnan)">
<path d="M504.5,647.5L509,643L513.5,638.5L521,637L528.5,637.7L531.5,644.5L536,647.5L539,652L539.7,659.5L537.5,665.5L536,670L539,676L543.5,682L546.5,685L548,692.5L551,700L555.5,704.5L558.5,709L563,715L566,719.5L560,721L554,722.5L548,721.7L542,721L534.5,722.5L528.5,725.5L522.5,730L516.5,730.7L507.5,730L510.5,721L513.5,712L515,709L521,707.5L525.5,703L528.5,695.5L530,688L531.5,682L530,677.5L525.5,673L521,670L518,668.5L513.5,665.5L509,661L506,655Z" fill="#FEE79A"/>
<path d="M489.5,667L494,661L500,656.5L506,655L509,661L513.5,665.5L518,668.5L521,670L519.5,676L515,680.5L510.5,683.5L506,685L500,687.2L498.5,682L494,677.5L491,673Z" fill="#FFF8C0"/>
<path d="M564.5,650.5L570.5,646L578,644.5L582.5,650.5L585.5,656.5L584,664L585.5,673L588.5,677.5L584,679L579.5,682L578,688L572,691L567.5,689.5L563,691L561.5,697L564.5,701.5L560,704.5L555.5,704.5L551,700L548,692.5L546.5,685L549.5,683.5L554,685L557,682L557,676L561.5,670L564.5,665.5L566,658Z" fill="#FFF8C0"/>
<path d="M578,644.5L581,635.5L584,631L588.5,629.5L591.5,635.5L594.5,638.5L600.5,637L605,640L607.2,646L602.7,650.5L601.2,656.5L604.2,661L608.7,665.5L605.7,673L605,679L602,683.5L597.5,680.5L593,677.5L588.5,677.5L585.5,673L584,664L585.5,656.5L582.5,650.5Z" fill="#FEE79A"/>
<path d="M521.7,730L528.5,725.5L534.5,722.5L542,721L548,721.7L551,727L551.7,733L556.2,739L556.2,747.2L551.7,749.5L545,748.7L543.5,739L540.5,736L536,740.5L530,742.7L525.5,739L521,736Z" fill="#F68720"/>
<path d="M574.2,623.5L579.5,619L584,613L585.5,607L590,601L594.5,595.7L601.2,595.7L602.7,602.5L602.7,608.5L606.5,612.2L612.5,609.2L617.7,609.2L618.5,616L614,622L608,623.5L602,621.2L597.5,624.2L593,622.7L588.5,627.2L584,631.7L581,636.2L576.5,634.7L574.2,629.5Z" fill="#FFFFE5"/>
</g>
<g clip-path="url(#c-guizhou)">
<path d="M691.7,616.7L689.2,613.3L689.4,612L686.7,606.7L681.7,603.3L677.5,605L676.7,600L673.3,593.3L670.8,588.3L663.3,586.7L656.7,585.8L655,590.8L650,592.5L645.8,595.8L641.7,594.2L638.3,597.5L635,596.7L629.2,595.8L624.2,599.2L625.8,603.3L630,605L635,606.7L635.8,610.8L630,613.3L623.3,614.2L617.5,613.3L615,617.5L610.8,623.3L605.8,620.8L601.7,618.3L597.5,621.7L593.3,620L590,625L588.3,629.2L590.8,634.2L591.7,638.3L596.7,639.2L601.7,636.7L605,640L605.8,645L602.5,650L600.8,655.8L603.3,660L606.7,663.3L608.3,666.7L605,671.7L604.2,676.7L603.3,679.2L608.3,676.7L613.3,672.5L618.3,673.3L623.3,675.8L628.3,675L633.3,672.5L638.3,670L643.3,667.5L647.5,663.3L651.7,659.2L655,661.7L658.3,665L663.3,667.5L667.5,665.8L670.8,661.7L675.8,660L680,659.2L684.2,656.7L688.3,654.2L693.3,652.5L696.7,651.7L694.2,646.7L690.8,642.5L690,636.7L693.3,633.3L692.5,628.3L686.7,627.5L682.5,629.2L682.5,625L686.7,620Z" fill="#FECE65"/>
<path d="M624,598L628,595.3L632.7,596L637.3,598L641.3,598.7L645.3,595.3L648,592L652.7,591.3L656,587.3L658,584.7L662.7,587.3L668,587.3L672,588.7L673.3,594.7L677.3,598.7L673.3,600L668,598.7L664,601.3L662.7,606.7L664,613.3L662.7,618.7L660,622.7L654.7,621.3L650.7,624L646.7,622.7L642.7,618.7L638.7,617.3L636,613.3L636.7,610.7L634,607.3L629.3,606L624.7,602.7Z" fill="#FEE79A"/>
<path d="M664,601.3L668,598.7L673.3,600L677.3,598.7L679.3,602.7L682.7,604L686.7,605.3L690,605.3L691.3,610.7L692,616L690,620.7L685.3,622L681.3,620L677.3,619.3L673.3,621.3L669.3,622.7L665.3,621.3L662.7,618.7L664,613.3L662.7,606.7Z" fill="#FFF8C0"/>
<path d="M602.7,637.3L606.7,634.7L612,636L614.7,640L618.7,642.7L620,646.7L616,650.7L612,646.7L609.3,652L606.7,660L604,657.3L600,653.3L601.3,645.3Z" fill="#FEAC3A"/>
<path d="M606.7,660L609.3,652L612,646.7L616,650.7L620,654.7L625.3,661.3L630.7,658.7L634.7,662.7L638.7,665.3L636,670.7L630.7,673.3L625.3,676L618.7,675.3L612,675.3L606,678.7L604,672L605.3,666.7Z" fill="#E1640E"/>
<path d="M620,646.7L622.7,641.3L628,638.7L633.3,640L638.7,644L636,648L634.7,653.3L634.7,662.7L630.7,658.7L625.3,661.3L620,654.7L616,650.7Z" fill="#FFF8C0"/>
<path d="M638.7,644L644,640L648,636L652,632L654.7,626.7L652.7,621.3L657.3,622.7L660,626.7L658.7,632L656,637.3L660,638.7L665.3,640L668,645.3L669.3,652L668,657.3L672,661.3L669.3,666L665.3,668.7L661.3,667.3L657.3,664.7L653.3,660.7L649.3,659.3L646.7,664.7L642.7,667.3L638.7,665.3L634.7,662.7L634.7,653.3L636,648Z" fill="#D9D9D9"/>
<path d="M660,626.7L665.3,622.7L670.7,621.3L677.3,619.3L681.3,620L684,624L682.7,628L689.3,628L694,629.3L692.7,634.7L690,638.7L692.7,644L693.3,649.3L691.3,654L686.7,655.3L682.7,659.3L677.3,662L672,661.3L668,657.3L669.3,652L668,645.3L665.3,640L660,638.7L656,637.3L658.7,632Z" fill="#E1640E"/>
</g>
<g clip-path="url(#c-hunan)">
<path d="M773,587.3L770,586.7L770.8,578.3L768.3,573.3L763.3,575L756.7,578.3L755,573.3L750,577.5L745,575.8L738.3,573.3L731.7,571.7L725,569.2L718.3,566.7L711.7,567.5L710,571.7L703.3,573.3L696.7,575L691.7,578.3L689.2,583.3L688.3,586.7L689.2,593.3L688.3,600L690,606.7L689.4,612L691.7,616.7L686.7,620L682.5,625L682.5,629.2L686.7,627.5L692.5,628.3L693.3,633.3L690,636.7L690.8,642.5L694.2,646.7L696.7,651.7L697.5,651.5L699,650L701,647L704,647.5L706,650L708.5,651L710,648L711.5,646L714,643.5L716.5,645L719,644L720,642.5L723,643.5L725.5,645L724,648.5L725.5,652L728.5,653L727.5,656L725,658L723.5,662L722,665L720,668.5L720,671L722.5,672L723.5,669L728,668L728.5,672L728.5,676L730,678L733,676L737,675.5L739,673L741,669L744,667.5L748,668L751,669L753,672L755,670L755.5,667L754,665L756.5,663L760,661L763,662L766,663.5L770,664L773.5,662.5L774.4,662.1L774.2,661.7L772.5,658.3L773.3,651.7L777.5,646.7L774.2,645L775.8,640L773.3,635L771.7,628.3L769.2,622.5L767.5,616.7L770,611.7L774.2,608.3L778.3,603.3L777.5,597.5L775.8,591.7L774.2,587.5Z" fill="#F68720"/>
<path d="M710,567.5L718.3,565.8L726.7,567.5L733.3,569.2L740,572.5L745,574.2L750.8,575L755.8,573.3L761.7,575.8L766.7,570.8L769.2,576.7L770.8,583.3L775.8,588.3L778.3,596.7L770,598.3L763.3,596.7L756.7,595L750,596.7L743.3,594.2L738.3,596.7L731.7,598.3L723.3,599.2L718.3,598.3L716.7,593.3L715,590L718.3,586.7L723.3,583.3L725.8,578.3L718.3,575L711.7,573.3Z" fill="#FECE65"/>
<path d="M742.5,580.8L748.3,583.3L754.2,586.7L750,591.7L745,595L742.5,590Z" fill="#F68720"/>
<path d="M697.5,575L703.3,573.3L710,575L718.3,575L725.8,578.3L723.3,583.3L718.3,586.7L715,590L709.2,590L705,585L700.8,580Z" fill="#C14702"/>
<path d="M688.3,583.3L695.8,578.3L698.3,576.7L700.8,580L705,585L709.2,590L707.5,596.7L705,603.3L701.7,608.3L695.8,611.7L691.7,614.2L689.2,606.7L688.3,596.7Z" fill="#FFF8C0"/>
<path d="M707.5,596.7L715,600L718.3,605L716.7,610L715,616.7L708.3,621.7L703.3,625L700,631.7L701.7,640L700,646.7L694.2,650.8L692.5,640L691.7,631.7L685.8,628.3L682.5,625L685.8,621.7L691.7,614.2L695.8,611.7L701.7,608.3L705,603.3Z" fill="#FEAC3A"/>
<path d="M716.7,610L723.3,606.7L731.7,608.3L738.3,613.3L743.3,620L738.3,623.3L733.3,620L726.7,618.3L718.3,617.5L715,616.7Z" fill="#FECE65"/>
<path d="M703.3,625L708.3,621.7L715,617.5L726.7,618.3L733.3,620L738.3,623.3L737.5,630L731.7,631.7L726.7,633.3L726.7,640L723.3,645L725.8,650L723.3,655L721.7,663.3L720,671.7L710,666.7L700,656.7L696.7,650L700,646.7L701.7,640L700,631.7Z" fill="#C14702"/>
<path d="M739.2,611.7L745,610L750.8,608.3L756.7,610L755.8,616.7L753.3,621.7L748.3,620L743.3,616.7Z" fill="#E1640E"/>
<path d="M725.8,633.3L731.7,632.5L738.3,635L741.7,640L741.7,648.3L745,656.7L743.3,665L740,670L735,673.3L730,675L726.7,670L723.3,666.7L721.7,661.7L723.3,656.7L725.8,652.5L725,646.7L726.7,640Z" fill="#662506"/>
<path d="M758.3,633.3L763.3,636.7L766.7,643.3L773.3,646.7L778.3,648.3L775,655L773.3,661.7L766.7,665L760,666.7L755,670L748.3,668.3L745,656.7L741.7,648.3L750,646.7L756.7,645L760,640Z" fill="#C14702"/>
</g>
<g clip-path="url(#c-jiangxi)">
<path d="M850,580L845.8,578.3L841.7,577.5L835.8,573.3L831.7,570.8L828.3,573.3L824.2,576.7L822.5,574.2L825,569.2L822.5,567.5L817.5,570.8L812.5,572.5L806.7,573.3L800,572.5L795.8,575L790.8,577.5L785,581.7L779.2,584.2L774.2,586.7L773.9,586.8L774.2,587.5L775.8,591.7L777.5,597.5L778.3,603.3L774.2,608.3L770,611.7L767.5,616.7L769.2,622.5L771.7,628.3L773.3,635L775.8,640L774.2,645L777.5,646.7L773.3,651.7L772.5,658.3L774.2,661.7L774.4,662.1L774.9,663.1L777,664L781,663.5L784,662.5L787.5,665.5L786,669L783,671L780.5,674L778,678L781,680.5L785,680L789,678.5L793,677.5L796,676.5L800,675.5L803,677.5L805,680L807,678L807.5,674.1L806.7,674.2L808.3,668.3L810,661.7L813.3,655L816.7,650.8L818.3,645L817.5,640L820,633.3L825,630L830,626.7L829.2,623.3L830.8,617.5L833.3,613.3L837.5,610L840.8,612.5L845.8,610L850,606.7L854.2,604.2L852.5,598.3L850,591.7L846.7,585Z" fill="#FEAC3A"/>
<path d="M771.7,590L775,580L786.7,571.7L801.7,566.7L820,563.3L828.3,570L821.7,578.3L816.7,583.3L813.3,588.3L806.7,590L800,588.3L793.3,590L786.7,591.7L780,593.3L776.7,594.2Z" fill="#FFFFE5"/>
<path d="M775,593.3L786.7,591.7L793.3,590L800,588.3L801.7,596.7L806.7,603.3L811.7,606.7L806.7,611.7L801.7,615L793.3,616.7L786.7,618.3L780,616.7L775,613.3L771.7,606.7L775,600Z" fill="#FEE79A"/>
<path d="M800,588.3L806.7,590L813.3,588.3L818.3,593.3L820,600L815,605L811.7,606.7L806.7,603.3L801.7,596.7Z" fill="#FECE65"/>
<path d="M816.7,583.3L821.7,578.3L825,573.3L833.3,570L843.3,571.7L851.7,575L853.3,583.3L855.8,590L856.7,598.3L860,603.3L851.7,605.8L843.3,610.8L836.7,612.5L833.3,606.7L826.7,603.3L820,600L818.3,593.3L813.3,588.3Z" fill="#FFF8C0"/>
<path d="M824.2,600.8L828.3,597.5L833.3,600L835.8,606.7L833.3,611.7L828.3,610L825,606.7Z" fill="#D9D9D9"/>
<path d="M806.7,611.7L811.7,606.7L815,605L820,600L826.7,603.3L833.3,611.7L830.8,618.3L829.2,625L824.2,630L819.2,635L815,640L811.7,633.3L806.7,628.3L803.3,621.7L803.3,616.7Z" fill="#F68720"/>
</g>
<g clip-path="url(#c-zhejiang)">
<path d="M887,632L887.5,631.2L890,626.2L895,623.8L900,616.2L903.8,611.2L908.8,607.5L911.8,601.4L916.2,598.8L915,592.5L917.5,585L916.2,577.5L920,573.8L917.5,568.8L917.5,562.5L912.5,561.2L905,557.5L900,556.2L903.2,554.7L902.5,554.2L899.2,550L897.5,545L898.3,548.3L895,550L891.7,553.3L889.2,551.7L883.3,547.5L878.3,545L875.8,546.7L874.2,551.7L870,555L869.2,560L864.2,562.5L861.7,566.7L860.8,571.7L856.7,575L852.5,579.2L850,580L846.7,585L850,591.7L852.5,598.3L854.2,604.2L859.2,605L860.8,611.7L862.5,619.2L866.7,620.8L873.3,617.5L876.7,621.7L880,624.2L885,622.5L889.2,624.2L888.3,628.3L886.7,631.7Z" fill="#FFF8C0"/>
<path d="M886.7,555L893.3,553.3L898.3,556.7L901.7,563.3L901.7,571.7L898.3,578.3L893.3,583.3L888.3,588.3L883.3,593.3L876.7,596.7L871.7,593.3L870,586.7L873.3,581.7L876.7,576.7L880,571.7L883.3,566.7L888.3,563.3L886.7,558.3Z" fill="#FFFFE5"/>
<path d="M857.5,600L863.3,596.7L870,594.2L876.7,596.7L883.3,594.2L887.5,598.3L886.7,605L883.3,610L876.7,611.7L873.3,617.5L866.7,621.7L862,620L860,611.7L858.3,605Z" fill="#FEE79A"/>
</g>
<g clip-path="url(#c-fujian)">
<path d="M832.3,701.3L836.2,698.8L841.2,692.5L846.2,686.2L850,681.2L855,678.8L860,673.8L863.8,668.8L867.5,666.2L872.5,662.5L877.5,658.8L880,653.8L877.5,648.8L881.2,643.8L880,638.8L883.8,637.5L887,632L886.7,631.7L888.3,628.3L889.2,624.2L885,622.5L880,624.2L876.7,621.7L873.3,617.5L866.7,620.8L862.5,619.2L860.8,611.7L859.2,605L854.2,604.2L850,606.7L845.8,610L840.8,612.5L837.5,610L833.3,613.3L830.8,617.5L829.2,623.3L830,626.7L825,630L820,633.3L817.5,640L818.3,645L816.7,650.8L813.3,655L810,661.7L808.3,668.3L806.7,674.2L808.1,671.5L807.5,674L807.5,674.1L811.7,673.3L816.7,675L822.5,676.7L825.8,681.7L827.5,688.3L829.2,695L831.7,700Z" fill="#FEE79A"/>
<path d="M820,633.3L826.7,630L833.3,626.7L838.3,628.3L843.3,633.3L846.7,640L850,643.3L855,646.7L853.3,653.3L846.7,656.7L841.7,658.3L838.3,660L835,655L828.3,651.7L821.7,650L816.7,650.8L817.5,645L816.7,640Z" fill="#FECE65"/>
<path d="M855,646.7L858.3,641.7L865,638.3L871.7,635L876.7,633.3L880.8,638.3L877.5,645L875.8,653.3L870.8,659.2L863.3,660.8L858.3,658.3L855,653.3Z" fill="#FFFFE5"/>
<path d="M840,660L846.7,656.7L853.3,653.3L858.3,658.3L863.3,660L867.5,663.3L862.5,669.2L857.5,674.2L850.8,679.2L845,680L840,676.7L838.3,670L840,665Z" fill="#FFF8C0"/>
<path d="M809.2,661.7L813.3,655L816.7,650.8L821.7,650L828.3,651.7L835,655L840,660L838.3,670L833.3,673.3L828.3,676.7L826.7,680L822.5,677.5L816.7,675.8L811.7,674.2L806.7,675L807.5,668.3Z" fill="#E1640E"/>
<path d="M826.7,680L828.3,676.7L833.3,673.3L838.3,670L840,676.7L845,680L850.8,679.2L849.2,684.2L844.2,690.8L839.2,695.8L834.2,700.8L830.8,700.8L828.3,695L826.7,688.3Z" fill="#FECE65"/>
</g>
<g clip-path="url(#c-guangdong)">
<path d="M697.5,742.3L698.8,742L699.5,746.2L697,752.5L697.5,760L700,768L712.5,765.5L713.8,760L710,755L706.2,756.2L705.5,751.2L710,748.8L712.5,750L711.2,746.2L715,742.5L722.5,743.8L727.5,742L733.8,738.8L740,737L745,737.5L748.8,740L751.2,736.2L755,735L758.8,733.8L761.2,731.2L766.2,730L770,726.2L773.8,723.8L776.2,726.2L780,722.5L785,719.5L790,717.5L796.2,715.5L802.5,717.5L805,713.8L812.5,712.5L818.8,710L823.8,706.2L827.5,702.5L831.2,702L832.3,701.3L831.7,700L829.2,695L827.5,688.3L825.8,681.7L822.5,676.7L816.7,675L811.7,673.3L807.5,674.1L807,678L805,680L803,677.5L800,675.5L796,676.5L793,677.5L789,678.5L785,680L781,680.5L778,678L780.5,674L783,671L786,669L787.5,665.5L784,662.5L781,663.5L777,664L774.9,663.1L773.5,662.5L770,664L766,663.5L763,662L760,661L756.5,663L754,665L755.5,667L755,670L753,672L751,669L748,668L744,667.5L741,669L739,673L737,675.5L738.5,679L739,683L737.5,686L736,690L734,694L731,697L729,701L727.5,705L727,709L728,712L725.5,715L722.5,717.5L719,719.5L716,721L714.5,724L714,728L710,728.5L708.5,731L708.5,735L706.5,737L702,738.5L699,740Z" fill="#FECE65"/>
<path d="M737,675.5L741,669L744,667L748,667.5L751,668.5L753,671.5L755.5,669.5L754.5,676L756,680L762,680L768,681L771,685L771,689L769,692L774,694L772,697L769,699L766,698L762,700L758,701L754,699L751,694L748,689L745,685L743,683L740,685L738,688L736,690.5L738,684L738.7,679Z" fill="#C14702"/>
<path d="M758,701L762,700L766,698L769,699L772,697L773,700L772,704L770,707L767,709L765,711L767,716L769,719L767.5,721L765,718L763,714L761.5,710L760,705Z" fill="#E1640E"/>
<path d="M737,690L740,685L743,683L745,685L748,689L751,694L754,699L758,701L760,705L759,708L755,709L752,710L750,713L746,714L744,710L742,706L738,705L734,706L730,705L728.5,701L731,697L734,694Z" fill="#F68720"/>
<path d="M752,710L755,709L759,708L761.5,710L763,714L760,716L756,717L754,715Z" fill="#FEAC3A"/>
<path d="M730,705L734,706L738,705L742,706L744,710L746,714L750,713L754,715L756,717L757,721L759,724L757,730L755,735L752,737L748,739L744.5,738L741,737.5L738,740L725,741L724,732L725,728L728,725L731,722L728,720L727,715L728,712L726.5,709L727.2,705Z" fill="#FEE79A"/>
<path d="M738,720L744,715L750,716L754,720L755,725L752,730L748,733L743,735L739,732L738,726Z" fill="#FECE65"/>
<path d="M699,710L703,708L708,710L713,709L715,713L718,716L719,720L723,718L728,720L731,722L728,725L725,728L724,732L725,741L705,741L700,730L696,720Z" fill="#E1640E"/>
<path d="M757,730L760,724L763,726L766,725L763,730L760,734L758,733.5Z" fill="#C14702"/>
<path d="M803.3,693.3L810,690L816.7,688.3L823.3,686.7L828.3,691.7L832.5,700L826.7,705.8L820,710.8L815,714.2L808.3,717.5L803.3,715.8L798.3,719.2L793.3,720.8L790,716.7L795,710L800,703.3Z" fill="#FEE79A"/>
<path d="M770,716.7L778.3,713.3L786.7,715L793.3,720.8L786.7,724.2L780,725.8L773.3,724.2Z" fill="#FEE79A"/>
<path d="M770,707L773,706L777,708L780,712L783,716L786.5,717.5L783,719.5L780,721L778,723.5L775,726.5L772.5,725.5L773,721L770,718L769,719L767,716L765,711L767,709Z" fill="#FEE79A"/>
<path d="M699.2,740L703.3,737.5L709.2,735.8L713.3,738.3L720,740L720,768.3L701.7,768.3L696.7,755L697.5,748.3Z" fill="#FEE79A"/>
<path d="M714.2,721.7L720,720L725,718.3L730.8,720.8L728.3,725L725.8,730L726.7,736.7L727.5,741.7L721.7,742.5L716.7,741.7L712.5,742.5L709.2,736.7L707.5,731.7L710,726.7Z" fill="#E1640E"/>
<path d="M699.2,741.7L705,735L709.2,736.7L712.5,742.5L716.7,743.3L713.3,748.3L710,751.7L712.5,758.3L713.3,765L706.7,768.3L700,769.2L699.2,761.7L696.7,756.7L696.7,750L698.3,745Z" fill="#FEE79A"/>
</g>
<g clip-path="url(#c-guangxi)">
<path d="M620.8,705.8L622.5,710L630,712.5L640,715L643.8,722.5L641.2,727.5L645,733.8L655,737.5L656.2,740.5L670,742L677.5,741.2L686.2,744.5L693.8,743L697.5,742.3L699,740L702,738.5L706.5,737L708.5,735L708.5,731L710,728.5L714,728L714.5,724L716,721L719,719.5L722.5,717.5L725.5,715L728,712L727,709L727.5,705L729,701L731,697L734,694L736,690L737.5,686L739,683L738.5,679L737,675.5L733,676L730,678L728.5,676L728.5,672L728,668L723.5,669L722.5,672L720,671L720,668.5L722,665L723.5,662L725,658L727.5,656L728.5,653L725.5,652L724,648.5L725.5,645L723,643.5L720,642.5L719,644L716.5,645L714,643.5L711.5,646L710,648L708.5,651L706,650L704,647.5L701,647L699,650L697.5,651.5L697,652L696.9,652.1L696.7,651.7L693.3,652.5L688.3,654.2L684.2,656.7L680,659.2L675.8,660L670.8,661.7L667.5,665.8L663.3,667.5L658.3,665L655,661.7L651.7,659.2L647.5,663.3L643.3,667.5L638.3,670L633.3,672.5L628.3,675L623.3,675.8L618.3,673.3L613.3,672.5L608.3,676.7L603.3,679.2L605.8,682.5L610.8,681.7L615,684.2L616.7,688.3L622.5,690L626.7,689.2L630.8,690L634.2,694.2L632.5,699.2L628.3,702.5L624.2,704.2Z" fill="#FECE65"/>
<path d="M602.5,675L645,665L645.8,683.3L648.3,690L661.7,698.3L663.3,703.3L648.3,705L643.3,715L640,721.7L633.3,715L623.3,710L620,703.3L628.3,698.3L631.7,693.3L628.3,690L621.7,688.3L616.7,686.7L615,681.7L608.3,680Z" fill="#FFF8C0"/>
<path d="M643.3,715L648.3,705L656.7,705L663.3,703.3L665,710L668.3,716.7L666.7,723.3L661.7,726.7L658.3,730L659.2,736.7L656.7,740.8L651.7,737.5L646.7,735L642.5,730L640,723.3Z" fill="#FEE79A"/>
<path d="M658.3,730L661.7,726.7L666.7,723.3L671.7,730L675,736.7L677.5,740.8L670,742.5L663.3,741.7L658.7,738.7Z" fill="#D9D9D9"/>
<path d="M680,660L686.7,653.3L693.3,649.2L697.5,653.3L696.7,661.7L695.8,670L700,676.7L705,681.7L710,685L706.7,688.3L701.7,691.7L696.7,695L691.7,691.7L685,690L682.5,683.3L685,676.7L686.7,670L685,663.3Z" fill="#FEAC3A"/>
<path d="M696.7,651.7L703.3,647.5L710,645.8L715,641.7L728.3,641.7L731.7,650L731.7,658.3L731.7,663.3L728.3,668.3L723.3,673.3L720,678.3L716.7,683.3L714.2,686.7L710,685L705,681.7L700,676.7L695.8,670L696.7,661.7Z" fill="#C14702"/>
<path d="M714.2,686.7L716.7,683.3L720,678.3L722.5,672.5L728.3,667.5L731.7,674.2L735,672L741.7,674.7L740.8,683.3L740,688.3L738.3,695.3L731.7,690L728.3,688.3L725,691.7L721.7,695L718.3,693.3L715.8,690Z" fill="#933204"/>
<path d="M688.3,703.3L693.3,698.3L696.7,695L701.7,691.7L706.7,688.3L710,685L714.2,686.7L715.8,690L718.3,693.3L721.7,695L725,691.7L728.3,688.3L732.5,693.3L730.8,700L729.2,706.7L729.2,713.3L725.8,717.5L720,720.8L715,722.5L714.2,715L711.7,710L706.7,710.8L703.3,711.7L699.2,713.3L696.7,718.3L691.7,715L688.3,710Z" fill="#FEE79A"/>
<path d="M670,728.3L675,723.3L681.7,721.7L690,720L696.7,718.3L695,723.3L694.2,728.3L696.7,733.3L690,735L685,736.7L680,738.3L675,736.7L671.7,731.7Z" fill="#F68720"/>
<path d="M696.7,718.3L699.2,713.3L703.3,711.7L706.7,710.8L711.7,710L714.2,715L715.8,722L710.8,726.7L709.2,731.7L705,735L700,736.7L696.7,738.7L696.7,733.3L694.2,728.3L695,723.3Z" fill="#E1640E"/>
</g>
<path d="M138.3,334.6L142.5,332.5L152.9,327.3L159.4,325.6L166.7,321.5L168.3,316.7L183.3,315.8L197.9,314.2L209.4,310.4L208.3,305.8L218.8,302.7L233.3,300L243.8,298.5L246.9,294.4L254.2,292.3L263.5,292.3L272.9,295.4L283.3,300L286.5,301.2L295.8,303.8L304.2,308.3L309.4,313.1L305.8,319.4L311.5,326.7L313.5,332.9L327.1,335L343.8,338.1L358.3,339.6L373.8,339.4L377.9,336.7L388.3,340.4L398.8,342.9L409.6,346.2L410.8,350.4L395.6,352.5L392.5,363.3L390.4,373.8L385.2,380L386.2,384.6L375.8,386.7L365.4,389.4L355,392.1L346.7,395.6L345.6,397.7L352.5,399.8L352.5,410.2L359.2,413.3L364.4,417.5L366.5,424.8L357.1,427.9L356,432.1L362.3,436.2L363.3,443.5L359.2,445.6L355,444.2L346.7,443.5L343.5,440.4L336.2,444.6L332.1,443.5L321.7,439.4L316.5,436.7L309.2,437.3L295.6,438.3L282.1,441.5L274.8,443.5L273.8,448.8L263.3,452.9L258.1,450.4L251.9,452.5L250.8,449.8L246.7,442.5L240.4,436.2L233.1,427.9L232.1,419.6L234.2,413.3L233.1,406L230,402.9L224.2,397.1L224.8,375.2L159.6,374.6L160.8,363.8L157.1,361.2L148.8,360L138.3,361.7L127.9,363.3L132.1,357.5L139.4,351.2L142.5,342.9Z" fill="#FEE79A"/>
<path d="M79,374.2L90.4,371L105,369L117.5,366.2L127.9,363.8L138.3,361.7L148.8,360L157.1,361.2L160.8,363.8L158.8,374.2L157.1,386.7L146.7,390.8L138.3,396L130,403.3L122.7,411.7L120.6,422.1L118.5,432.5L120.6,439.8L125.4,447.1L124.8,456.5L116.5,455.4L110.2,453.3L102.9,450.2L97.7,446.7L92.5,445L91.5,439.8L89.4,434.2L84.2,430.4L81,426.2L65.4,424.2L65.4,421.7L73.8,421L76.9,417.9L72.7,415.4L73.8,410.6L71.7,403.3L71.2,400.2L80,403.3L87.3,408.5L92.5,411.2L99.8,407.5L101.9,397.1L96.7,391.9L90.4,386.7L85.2,383.5L80,380.4Z" fill="#FFF8C0"/>
<path d="M295.2,262.1L306.7,262.1L303.8,276.7L307.3,285L314.6,287.5L322.9,289.2L323.3,292.9L316.7,296.5L310.4,297.5L304.2,300L300,303.8L295.8,302.1L286.5,301.2L290,293.3L294.8,286L299.6,276.7Z" fill="#FFF8C0"/>
<path d="M370.8,260.4L367.7,268.3L366.7,280.8L369.8,287.1L363.5,293.3L367.7,303.8L369.8,314.2L376,326.7L376,334L377.9,336.7L388.3,340.4L398.8,342.9L409.6,346.2L410.8,350.4L411.2,345.6L415.4,340.4L420.6,335.2L427.9,331L417.5,340L425,333.8L432.5,328.8L438,331.2L442.5,325L450,323.8L453.8,320L452.5,312.5L457.5,308L452.5,301.2L447.5,293.8L443.8,285L440,281.2L440,276.2L430,275L420,268.8L412.5,265.5L405,262.5L400,262.1L385.4,261.7Z" fill="#FECE65"/>
<path d="M139.4,369L146.7,364.2L155,363.3L156,365.8L148.8,369.6L142.5,371.7Z" fill="#D9D9D9"/>
<path d="M174.8,351.2L188.3,348.1L196.7,346.7L197.7,353.3L184.2,355.8L175.4,356.5Z" fill="#D9D9D9"/>
<path d="M260.4,326.7L266.7,325.6L272.9,326.7L266.7,328.8L261.5,328.8Z" fill="#D9D9D9"/>
<path class="b" d="M145.6,479.4L155,478.3L161.7,475.2L163.3,469L168.5,461.7L170,457.9L175.8,458.5L183.1,460L189.4,459.2L194.6,462.1L200.8,460L207.1,453.3L214.4,452.3L218.5,456.5L224.8,459.2L236.2,458.5L244.6,455.4L250.8,451.2L259.2,449.2L264.4,451.7L271.7,448.1L280,441.9"/>
<path class="b" d="M282.1,441.5L295.6,438.3L309.2,437.3L316.5,436.7L321.7,439.4L332.1,443.5L336.2,444.6"/>
<path class="b" d="M336.2,444.6L343.5,440.4L346.7,443.5L355,444.2L359.2,445.6L363.3,443.5L362.3,436.2L356,432.1L357.1,427.9L366.5,424.8L364.4,417.5L359.2,413.3L352.5,410.2L352.5,399.8L345.6,397.7L346.7,395.6L355,392.1L365.4,389.4L375.8,386.7L386.2,384.6L385.2,380L390.4,373.8L392.5,363.3L395.6,352.5L410.2,350.4L411.2,345.6L415.4,340.4L420.6,335.2L427.9,331L417.5,340L425,333.8L432.5,328.8L438,331.2L442.5,325L450,323.8L453.8,320L452.5,312.5L457.5,308"/>
<path class="b" d="M386.2,384.6L390.4,382.1L396.7,381L400.8,386.2L409.2,386.7L413.3,389.4L420.6,390.4L424.8,397.7L433.1,396.7L438.3,397.7L444.6,397.1L452.9,401.9L461.2,400.4L463.3,395.6L468.5,392.5L467.5,385.2L469.6,380.4L480,382.1"/>
<path class="b" d="M336.2,444.6L332.1,445.6L333.1,448.8L339.4,449.8L338.3,455L333.8,460.2L335.2,467.5L340.4,469.2L338.3,475.8L340.4,481L337.3,486.2L342.5,491.5L344.6,496.7L350.8,501.9L358.1,505L365.4,504.6L373.8,508.1L380,511.7L388.3,512.9L396.7,513.3L407.1,517.5L417.5,518.5L425.8,514.4L432.1,518.5L437.3,520.6L438.3,525.8L441.5,531L448.8,533.1L454,535.2L456,531L461.2,533.1L465.4,533.1L464.4,527.9L473.8,525.8L475.8,516.5L480,515.4"/>
<path class="b" d="M480,382.1L487.9,388.3L494.2,386.2L500.4,384.2L506.7,387.3L512.9,390.4L519.2,395.6L525.4,396.7L523.3,398.8L531.7,400.8L537.9,404L544.2,408.1L552.5,411.2L559.8,412.3L565,418.5L568.1,424.8L573.3,432.1L576.5,440.4L577.5,440L576.2,443.1L574.4,446.2L572.5,449.4L571.2,453.8L567.5,455.6L564.4,458.8L565,463.1L561.9,466.2L558.1,469.4L557.5,474.4L561.9,477.5L563.8,479.4L559.4,481.9L556.9,484.4L550.6,483.8L545,481.2L538.8,479.4L536.5,483.1L539.4,487.5L543.8,491.2L545,494.4L550,493.8L553.8,496.9L556.9,495.6L556.9,498.8L555.6,502.5L548.8,502.5L543.8,503.8L543.1,508.1L545,511.9L540,515L535,516.2L531.9,513.8L530,512.5L527.5,513.3L523.3,510.2L520.2,507.1L518.1,511.2L511.9,510.2L508.8,507.1L502.5,502.9L500.4,496.7L496.2,492.5L495.2,486.2L490,484.2L484.8,483.1L480.6,486.2L476.5,490.4L477.5,498.8L478.5,505L475.4,510.2L477.1,515.8"/>
<path class="b" d="M477.1,515.8L481.7,518.5L489,523.8L493.1,529L497.3,535.2L500.4,540.4L498.3,544.6L502.5,550.8L504.6,559.2L505.6,567.5L506.7,575.8L507.7,585.2L507.1,590.4"/>
<path class="b" d="M507.1,590.4L502.5,592.5L499.4,589.4L496.2,594.6L497.3,600.8L495.2,607.1L490,608.1"/>
<path class="b" d="M555.6,502.5L560,501.2L564.4,498.8L567.5,496.9L565.6,492.5L563.8,490L561.9,487.5L566.2,486.9L570,483.8L573.8,480.6L576.2,481.2L578.1,483.8L579.4,490L583.8,491.2L588.8,493.1L595,493.8L598.1,496.9L600,500L602.5,501.2L601.2,505L601.9,508.1L599.4,510L603.8,513.8L610,515L616.2,515L620,513.1L620,510L625.6,509.4L628.8,508.1"/>
<path class="b" d="M628.8,508.1L629.4,503.8L626.2,501.2L628.1,497.5L631.2,495.6L636.2,495.6L640,496.9L640.6,492.5L638.8,488.8L640,485L643.1,481.2L641.2,478.1L637.5,475.6L640,471.9L640,466.9L641.2,465L646.2,464.4L650,466.9L653.8,468.8L657.5,467.5L663.1,466.9L661.2,462.5L666.2,461.2L671.2,460.6L678.1,460.6L678.8,455L676.2,451.2L675.6,446.2L678.1,443.8L680,442.5"/>
<path class="b" d="M628.8,508.1L631.9,511.2L636.2,513.8L640,514.4L643.8,512.5L648.1,513.8L650.6,517.5L654.4,518.8L656.2,517.5L660,520L664.4,521.9L668.8,522.5L673.8,523.1L675.6,524.4L680,525.6"/>
<path class="b" d="M675.6,524.4L672.5,528.8L675.6,533.8L673.8,537.5L670,541.2L667.5,545.6L665,550L660.6,551.9L657.5,555L656.2,558.8L653.1,563.1L650,566.9L645,568.1L641.2,563.1L636.2,563.1L632.5,561.9L627.5,560.6L623.8,564.4L625,568.8L622.5,572.5L618.1,576.9L619.4,581.2L624.4,583.8L626.2,586.9L626.9,590"/>
<path class="b" d="M472.5,307.5L476.2,316.2L480,323.8L483.8,330L479.5,334.5L486.2,341.2L492.5,346.2L493.8,352.5L497.5,350L502.5,351.2L507.5,347.5L516.2,345.5L525,347L527.5,351.2L525,357.5L520,363.8L512.5,367L518.8,368L525,372.5L532.5,376.2L537.5,377.5L538.8,385L545,386.2L553.8,392.5L558.3,388.3L555.8,383.3L565,379.7L572.5,381.7L581.7,378.3L588.3,375.8L595,375.3L598.3,383.3L594.2,388.3L590,393.3L584.2,397.5L583.7,403.3L585,408.3L590,411.7L595.8,415.8L600.8,417.5"/>
<path class="b" d="M600.8,417.5L606.7,415L615,412.5L623.3,410.8L626.7,409.7L627.5,403.3L626.7,396.7L629.2,390L630.8,385.8L634.2,380L640,377.5L645,378.3L647.5,383.3L646.7,387.5L643.3,391.7L640,398.3L644.2,401.7L650,402.5L655,405L659.7,408.3"/>
<path class="b" d="M659.7,408.3L664.2,410L667.5,412.5L678.3,411.7L680.8,405L683.3,403.3L685,396.7L690.8,391.7L695.8,385L700.8,380L706.7,377.5L713.3,375L721.7,374.2L724.2,376.7L728.3,371.7L734.2,370L740,365.8"/>
<path class="b" d="M724.2,376.7L723.3,380L720.8,385L719.2,390.8L715,395.8L711.7,401.7L712.5,408.3L715.8,413.3L714.2,420L710.8,425L710,433.3L711.7,441.7L710.8,450L711.7,456.7L707.5,465.8L706.7,473.3L708.3,475.8"/>
<path class="b" d="M708.3,475.8L710.8,483.3L714.2,490L718.3,495L720.8,502.5L725,508.3L730,515L735,520L740,523.3"/>
<path class="b" d="M660.5,408L658,410L655,413.5L654,417.5L654,423.5L643,423.5L640.5,428L641.5,431L639,433.5L638,436L640,440L645,441L648,444L647,448L646,451L640,452L638.5,455L639.5,460L638,461.5L633,459L629,456.5L625,452L619.5,449L618.5,445L620,441L618,434L615,428L612,423L610,423.3L605.8,420L600.8,417.5"/>
<path class="b" d="M654,423.5L654.5,426.5L660,429.5L666,433L672,435.5L678,437.5L679,442L680,442.5"/>
<path class="b" d="M740,365.8L744.2,360L750,358.3L755,359.2L761.7,356.7L768.3,354.2L774.2,352.5L776.7,349.2"/>
<path class="b" d="M776.7,349.2L775.8,346.7L773.3,341.7L771.7,338.3L774.2,334.2L778.3,332.5L777.5,327.5L781.7,322.5L786.7,320.8L790,322.5L790.8,330.8L796.7,331.7L800,329.2L806.7,325.8L810.8,326.7L815,323.3L820,324.2L825,321.7L824.2,318.3L827.5,315L831.7,315L835,311.7L842.5,311.7L846.7,318.3L850.8,322.5L851.7,326.7L849.2,331.7L852.5,335.8L858.3,337.5L865,337.5L867.5,338.3L870.8,333.3L870,326.7L868.3,320L872.5,315.8L876.7,319.2L880.8,325L883.3,330L887.5,325L893.3,320.8L900,318.3"/>
<path class="b" d="M867.5,338.3L865,341.7L862.5,345.8L866.7,349.2L871.7,352.5L874.2,356.7L876.7,361.7L878.7,364"/>
<path class="b" d="M776.7,349.2L778.3,355L773.3,363.3L778.3,365.8L782.5,369.2L781.7,378.3L778.3,382.5L773.3,384.2L770.8,390L766.7,395L770,401.7L773.3,406.7L775.8,413.3L773.3,420L770,425.8L768.3,430.8L765,433.3L766.7,437.5L769.2,439.2"/>
<path class="b" d="M769.2,439.2L768.3,446.7L767.5,454.2L761.7,457.5L755,460L748.3,461.7L740,463.3L733.3,467.5L725,470.8L716.7,473.3L708.3,475.8"/>
<path class="b" d="M769.2,439.2L775,440L783.3,442.5L791.7,443.3L799,445"/>
<path class="b" d="M844.5,399.5L840,402.5L836,408L824,408.5L820,410.5L814.5,414.5L815,416L810,418.5L807.5,422L804,428L799.5,432L797.5,437.5L800.5,442L799,445L798.5,449"/>
<path class="b" d="M798.5,449L804,447.5L810,444.5L811.5,445L807,448L803,450L801,450L799.5,454L793,460L789.2,465L790,466.7L795.8,468.3L798.3,470.8L800.8,475L808.3,475L814.2,475.3"/>
<path class="b" d="M822,343.5L824,346L827,349.5L832,351L835.5,350L837.5,351.5L834.5,353L832.5,354L833,357.5L835,359.5L833,361.5L831,363.5L832,366.5L831.5,369.5L830,372L826.5,371.5L824.5,372.5L824,374.5L822,372.5L819,373L817,375.5L814,373.5L810,374L808,372.5L804.5,373.5L801.5,372L801,368.5L799.5,365.5L801,363L805,361.5L809,359L807,356L805.5,354L807.5,352L811.5,351L814.5,349L817.5,347L818,344.5L822,343.5"/>
<path class="b" d="M831,363.5L830,363.2L824,364L825,366.5L827,368.5L826.5,371.5"/>
<path class="b" d="M835,359.5L837.5,361.5L840,362.5L842.5,364L841,365L838.5,364.5L837.5,367L839,370L841.5,372L844,373.5L844.5,376L841.5,376.5L838.5,377.5L840,378.5L844,378L846.5,379.5L850,384.5"/>
<path class="b" d="M845,393.5L839,393L836,392.5L834,394.5L831,392.5L828,391.5L824,390L823,387L824.5,384L826,382L825.5,378.5L824.5,374.5"/>
<path class="b" d="M814.2,475.3L817.5,470.8L821.7,469.2L825.8,470.8L828.3,475L831.7,477.5L836.7,475.8L841.7,474.2L846.7,473.3L850,477.5L854.2,474.2L858.3,471.7L860,467.5L864.2,465.8L867.5,466.7"/>
<path class="b" d="M814.2,475.3L815.8,479.2L820,480.8L824.2,477.5L828.3,483.3L833.3,485.8L839.2,487.5L841.7,492.5L848.3,493.3L846.7,498.3L845,503.3L850,505.8L851.7,511.7L855.8,513.3L860,510L864.2,508.3L867.5,512.5L865.8,517.5L860,515.8L856.7,517.5L858.3,521.7L855,525L852.5,528.3L855.8,532.5L860.8,535.8L860,541.7L866.7,543.3L871.7,545L875.8,546.7"/>
<path class="b" d="M875.8,546.7L878.3,545L883.3,547.5L889.2,551.7L891.7,553.3L895,550L898.3,548.3L897.5,545L900,541.7L903.3,539.2L902.5,535L905,530.8L910,532.5L916.7,535.8"/>
<path class="b" d="M897.5,545L899.2,550L902.5,554.2L905,555.8"/>
<path class="b" d="M814.2,475.3L813.3,477.5L816.7,481.7L820,485.8L819.2,489.2L813.3,491.7L809.2,488.3L805,485.8L802.5,489.2L803.3,493.3L800.8,496.7L798.3,501.7L794.2,504.2L790.8,505L791.7,508.3L795.8,510L795.8,514.2L799.2,516.7L805,518.3L808.3,520.8L809.2,526.7L807.5,531.7L804.2,535L799.2,539.2"/>
<path class="b" d="M799.2,539.2L794.2,536.7L788.3,537.5L783.3,535.8L779.2,532.5L774.2,530.8L770,526.7L767.5,520.8"/>
<path class="b" d="M799.2,539.2L801.7,542.5L805.8,545.8L810.8,549.2L806.7,555L810,560L811.7,566.7L812.5,572.5"/>
<path class="b" d="M812.5,572.5L817.5,570.8L822.5,567.5L825,569.2L822.5,574.2L824.2,576.7L828.3,573.3L831.7,570.8L835.8,573.3L841.7,577.5L845.8,578.3L850,580"/>
<path class="b" d="M875.8,546.7L874.2,551.7L870,555L869.2,560L864.2,562.5L861.7,566.7L860.8,571.7L856.7,575L852.5,579.2L850,580"/>
<path class="b" d="M850,580L846.7,585L850,591.7L852.5,598.3L854.2,604.2"/>
<path class="b" d="M854.2,604.2L859.2,605L860.8,611.7L862.5,619.2L866.7,620.8L873.3,617.5L876.7,621.7L880,624.2L885,622.5L889.2,624.2L888.3,628.3L886.7,631.7L890,635"/>
<path class="b" d="M854.2,604.2L850,606.7L845.8,610L840.8,612.5L837.5,610L833.3,613.3L830.8,617.5L829.2,623.3L830,626.7L825,630L820,633.3L817.5,640"/>
<path class="b" d="M812.5,572.5L806.7,573.3L800,572.5L795.8,575L790.8,577.5L785,581.7L779.2,584.2L774.2,586.7"/>
<path class="b" d="M675.7,524.3L680,526.7L685,530.8L690.8,533.3L695,532.5"/>
<path class="b" d="M695,532.5L694.2,526.7L695,520L700,516.7L705,515L703.3,510.8L699.2,509.2L698.3,505.8L694.2,504.2L696.7,503L703.3,503.3L713.3,504.2L720.8,502.5"/>
<path class="b" d="M740,521.7L746.7,520.8L755,520L761.7,522.5L767.5,520.8"/>
<path class="b" d="M695,532.5L700,536.7L704.2,540L705,546.7L702.5,550.8L696.7,553.3L690.8,555.8L683.3,557.5L676.7,558.3L674.2,560L675.8,566.7L678.3,571.7L681.7,576.7L685,581.7L688.3,586.7"/>
<path class="b" d="M688.3,586.7L689.2,583.3L691.7,578.3L696.7,575L703.3,573.3L710,571.7L711.7,567.5L718.3,566.7L725,569.2L731.7,571.7L738.3,573.3L745,575.8L750,577.5L755,573.3L756.7,578.3L763.3,575L768.3,573.3L770.8,578.3L770,586.7L774.2,587.5"/>
<path class="b" d="M688.3,586.7L689.2,593.3L688.3,600L690,606.7L689.2,613.3L691.7,616.7"/>
<path class="b" d="M691.7,616.7L686.7,606.7L681.7,603.3L677.5,605L676.7,600L673.3,593.3L670.8,588.3L663.3,586.7L656.7,585.8L655,590.8L650,592.5L645.8,595.8L641.7,594.2L638.3,597.5"/>
<path class="b" d="M626.8,590L630,590.8L635,589.2L637.5,594.2L638.3,597.5"/>
<path class="b" d="M638.3,597.5L635,596.7L629.2,595.8L624.2,599.2L625.8,603.3L630,605L635,606.7L635.8,610.8L630,613.3L623.3,614.2L617.5,613.3"/>
<path class="b" d="M507.1,590.4L509.8,596.7L511.9,602.9L516,594.6L520.2,597.7L523.3,602.9L526.5,608.1L531.7,612.3L534.8,617.5L540,621.7L542.1,630L543.3,628.3L548.3,635L550,638.3L552.5,644.2L556.7,648.3L563.3,646.7L570,644.2L575.8,643.3L577.5,636.7L575,630L574.2,623.3L577.5,620L581.7,615.8L584.2,609.2L587.5,605L590.8,602.5L591.7,598.3L596.7,596.7L600.8,596.7L601.7,601.7L600.8,606.7L603.3,610.8L608.3,611.7L612.5,609.2L615.8,608.3L617.5,613.3"/>
<path class="b" d="M617.5,613.3L615,617.5L610.8,623.3L605.8,620.8L601.7,618.3L597.5,621.7L593.3,620L590,625L588.3,629.2L590.8,634.2L591.7,638.3L596.7,639.2L601.7,636.7L605,640L605.8,645L602.5,650L600.8,655.8L603.3,660L606.7,663.3L608.3,666.7L605,671.7L604.2,676.7L603.3,679.2"/>
<path class="b" d="M603.3,679.2L605.8,682.5L610.8,681.7L615,684.2L616.7,688.3L622.5,690L626.7,689.2L630.8,690L634.2,694.2L632.5,699.2L628.3,702.5L624.2,704.2L620.8,705.8"/>
<path class="b" d="M603.3,679.2L608.3,676.7L613.3,672.5L618.3,673.3L623.3,675.8L628.3,675L633.3,672.5L638.3,670L643.3,667.5L647.5,663.3L651.7,659.2L655,661.7L658.3,665L663.3,667.5L667.5,665.8L670.8,661.7L675.8,660L680,659.2L684.2,656.7L688.3,654.2L693.3,652.5L696.7,651.7"/>
<path class="b" d="M691.7,616.7L686.7,620L682.5,625L682.5,629.2L686.7,627.5L692.5,628.3L693.3,633.3L690,636.7L690.8,642.5L694.2,646.7L696.7,651.7"/>
<path class="b" d="M774.2,587.5L775.8,591.7L777.5,597.5L778.3,603.3L774.2,608.3L770,611.7L767.5,616.7L769.2,622.5L771.7,628.3L773.3,635L775.8,640L774.2,645L777.5,646.7L773.3,651.7L772.5,658.3L774.2,661.7"/>
<path class="b" d="M773.5,662.5L777,664L781,663.5L784,662.5L787.5,665.5L786,669L783,671L780.5,674L778,678L781,680.5L785,680L789,678.5L793,677.5L796,676.5L800,675.5L803,677.5L805,680L807,678L807.5,674L808.5,670L810,668L806.7,674.2"/>
<path class="b" d="M806.7,674.2L808.3,668.3L810,661.7L813.3,655L816.7,650.8L818.3,645L817.5,640L820,633.3L825,630L830,626.7L829.2,623.3L830.8,617.5L833.3,613.3"/>
<path class="b" d="M806.7,674.2L811.7,673.3L816.7,675L822.5,676.7L825.8,681.7L827.5,688.3L829.2,695L831.7,700"/>
<path class="b" d="M697,652L699,650L701,647L704,647.5L706,650L708.5,651L710,648L711.5,646L714,643.5L716.5,645L719,644L720,642.5L723,643.5L725.5,645L724,648.5L725.5,652L728.5,653L727.5,656L725,658L723.5,662L722,665L720,668.5L720,671L722.5,672L723.5,669L728,668L728.5,672L728.5,676L730,678L733,676L737,675.5"/>
<path class="b" d="M737,675.5L739,673L741,669L744,667.5L748,668L751,669L753,672L755,670L755.5,667L754,665L756.5,663L760,661L763,662L766,663.5L770,664L773.5,662.5"/>
<path class="b" d="M737,675.5L738.5,679L739,683L737.5,686L736,690L734,694L731,697L729,701L727.5,705L727,709L728,712L725.5,715L722.5,717.5L719,719.5L716,721L714.5,724L714,728L710,728.5L708.5,731L708.5,735L706.5,737L702,738.5L699,740L697,743"/>
<path class="b" d="M947,200L940,204L932,209L926,214L930,219L935,227L940,224L946,223L947,226L939,230L936,234L938,236.6L948,236L952,236"/>
<path class="b" d="M952,236L954,243L958,249L964,253.6L972,253L980,252.4L985,257L992,259L1000,258L1007,260L1009,269L1015,271L1020,279L1026,280L1032,273L1036,281L1042,291L1048,287L1057,285L1061,283L1068,283L1070,289L1078,292L1085,294"/>
<path class="b" d="M952,236L948,236L936,237L933,241L932,248L926,243L920,245L915,242L912,247L918,250L920,258L919,266L922,274L924,278L932,276L938,273L942,280L944,288L942,293L948,295"/>
<path class="b" d="M948,295L952,296L958,300L963,305L968,301L971,308L975,316L979,321L980,328L983,336L985,343L984.4,346"/>
<path class="b" d="M948,295L946,302L940,304L932,307L924,308L916,310L908,314L900,318"/>
<path class="b" d="M910,92.5L913.8,97.5L905,106.2L912.5,112.5L920,108.8L927.5,112.5L931.2,117.5L932.5,125L936.2,132.5L945,133.8L955,132.5L965,133.8L973.8,126.2L980,128.8L990,138.8L985,146.2L981.2,156.2L976.2,162.5L975,175L968.8,182.5L965,187.5L962.5,198.8L947,200"/>
<path class="b" d="M400,262.1L385.4,261.7L370.8,260.4L358.3,257.5L355.2,251.7L358.3,244.4L361.5,240.2L359.4,232.9L362.1,228.8L356.2,220.4L352.1,212.1L350.4,207.9L343.8,204.2L337.5,202.7L331.2,200L324,198.5L317.7,194.4L314.6,190.2L308.3,187.1L305.2,182.9L304.2,177.7L295.8,177.1L287.5,178.8L284.4,181.9L283.3,187.1L279.2,191.2L267.7,192.9L264.2,197.5L263.5,204.8L265.6,214.2L262.5,219.4L254.2,221.5L252.1,224.2L241.7,221.5L233.3,222.1L220.8,216.7L217.7,220.4L213.5,229.8L206.2,242.3L204.6,249.6L208.3,253.8L210.4,256.9L202.1,257.5L194.8,254.8L183.3,258.3L170.8,261L162.1,263.8L169.8,268.3L171.9,276.7L175,285L178.1,293.3L177.1,300.6L170.8,303.8L174,305.8L168.3,309L167.7,315.2L166.7,321.5L159.4,325.6L150,328.3L152.9,327.3L142.5,332.5L132.1,336.2L124.8,340.8L119.6,343.3L108.1,343.3L105,348.1L100.8,354.4L92.5,357.1L86.7,357.5L85.2,352.3L79,353.3L71.7,355.4L64.4,360.6L56,362.7L54,367.9L53.3,373.8L48.3,375.8L48.8,380.4L52.5,384.6L51.9,389.8L55.4,393.3L64.4,392.5L70.6,396L71.7,403.3L73.8,410.6L72.7,415.4L76.9,417.9L73.8,421L65.4,421.7L65.4,424.2L81,426.2L84.2,430.4L89.4,434.2L91.5,439.8L92.5,445L97.7,446.7L102.9,450.2L110.2,453.3L116.5,455.4L123.8,456.5L130.4,457.1L129.6,463.8L132.1,472.1L136.2,475.8L145.6,479.4L144.2,483.5L140,485.6L141.5,495L147.7,503.3L150.8,513.8L144.6,521L140.4,514.2L135.2,516.9L137.3,525.2L142.5,532.5L143.5,540.8L147.7,548.1L152.5,548L160,551.2L165,556.2L177.5,561.2L184.5,567.5L188.8,560L200,561.2L203.8,566.2L215,573.8L222.5,578.8L227.5,584.5L236.2,582.5L240,591.2L250,597.5L256.2,596.2L257,602.5L265,602.5L271.2,610.5L275,607.5L282.5,607.5L292.5,613L305,612L318.8,607.5L322,611.2L322,621.2L325.5,625L328.8,615L335,607.5L341.2,605L352.5,607L361.2,611.2L367.5,608.8L371.2,612.5L372.5,618.8L380,621.2L381.2,632.5L395,631.2L411.2,630L413.8,623.8L420,619.5L430,615L440,607L448.8,604.5L457.5,606.2L466.2,611.2L471.2,614.5L475,610L476.2,602.5L480.5,598.8L485,602.5L490,604.5L491.2,615L497.5,618.8L500,627.5L500.5,640L500,650L496.2,655L490,658.8L488.8,663.8L482.5,667.5L483,675L478.8,677.5L480,685L478.8,692.5L482.5,693L490,688.8L501.2,688L499.5,695L502.5,702.5L503.8,708L513.8,710.5L515,715L511.2,722.5L508.8,730L522,732L523.8,737.5L527.5,742L540,738.8L543.8,737.5L545,747.5L555,748.8L555,740L552.5,731.2L552,725L563.8,722.5L568.8,717L578.8,722.5L582.5,715L587.5,720L591.2,716.2L595,722L601.2,715L607.5,712.5L611.2,708L620,703.8L622.5,710L630,712.5L640,715L643.8,722.5L641.2,727.5L645,733.8L655,737.5L656.2,740.5L670,742L677.5,741.2L686.2,744.5L693.8,743L698.8,742L699.5,746.2L697,752.5L697.5,760L700,768L712.5,765.5L713.8,760L710,755L706.2,756.2L705.5,751.2L710,748.8L712.5,750L711.2,746.2L715,742.5L722.5,743.8L727.5,742L733.8,738.8L740,737L745,737.5L748.8,740L751.2,736.2L755,735L758.8,733.8L761.2,731.2L766.2,730L770,726.2L773.8,723.8L776.2,726.2L780,722.5L785,719.5L790,717.5L796.2,715.5L802.5,717.5L805,713.8L812.5,712.5L818.8,710L823.8,706.2L827.5,702.5L831.2,702L836.2,698.8L841.2,692.5L846.2,686.2L850,681.2L855,678.8L860,673.8L863.8,668.8L867.5,666.2L872.5,662.5L877.5,658.8L880,653.8L877.5,648.8L881.2,643.8L880,638.8L883.8,637.5L887.5,631.2L890,626.2L895,623.8L900,616.2L903.8,611.2L908.8,607.5L912.5,600L910,602.5L916.2,598.8L915,592.5L917.5,585L916.2,577.5L920,573.8L917.5,568.8L917.5,562.5L912.5,561.2L905,557.5L900,556.2L905,553.8L912.5,552.5L917,550L917.5,542.5L916.2,537.5L917.5,530L912.5,523.8L907.5,520L903.8,515L899.5,510L896.2,500L892.5,490L888.8,481.2L880,477.5L872.5,472.5L867.5,466.2L875,460L878.8,455L885,449.5L890,445L897.5,437.5L905,432.5L913.8,428.8L921.2,426.2L927.5,426.2L930,418L925,417L916.2,415L910,413.8L905,411.2L900,410L895,408L890,410L885,412L880,416.2L876.2,421.2L870,422.5L863.8,420L862.5,415L867.5,411.2L865,403.8L855,402.5L846.2,401.2L842,397L843.8,388.8L851.2,381.2L857.5,383.8L863.8,380L870,372.5L875,367.5L878.8,365L885,362.5L891.2,360L897.5,351.2L902.5,347.5L910,347L916.2,348.8L922,353.8L920,357.5L915,361.2L910,367.5L906.2,371.2L904.5,375L907.5,378.8L911.2,382.5L902.5,386.2L902,389.5L911.2,386.2L916.2,382.5L922.5,378.8L927.5,376.2L935,372.5L945,368.8L955,368L960,363.8L967.5,358.8L973.8,353.8L980,348.8L985,346.2L992.5,341.2L997.5,336.2L1001.2,330L1003.8,328.8L1010,330L1013.8,333.8L1025,335L1030,331.2L1026.2,325L1030,322.5L1040,322.5L1046.2,318.8L1050,313.8L1056.2,312.5L1058.8,303.8L1065,306.2L1072.5,315L1072.5,310L1068.8,308.8L1077.5,305L1082.5,302.5L1085,295L1083.8,282.5L1081.2,272.5L1080,265L1088.8,261.2L1095,256.2L1103.8,258.8L1115,261.2L1117.5,253.8L1123.8,248.8L1126.2,241.2L1131.2,233.8L1133.8,225L1137.5,212.5L1146.2,207.5L1143.8,201.2L1148.8,195L1152.5,192L1140,192.5L1130,195L1117.5,198.8L1110,203.8L1103.8,206.2L1092.5,207.5L1080,206.2L1073.8,201.2L1075,193.8L1071.2,187.5L1072.5,183.8L1065,182.5L1060,177.5L1055,173.8L1046.2,171.2L1038.8,168.8L1030,170L1021.2,167.5L1016.2,160L1016.2,155L1012.5,148.8L1010,141.2L1005,132.5L1003.8,126.2L998.8,120L996.2,113.8L991.2,107.5L987.5,101.2L980,97.5L973.8,93.8L962.5,92.5L955,89.5L946.2,87L940,86.2L923.8,88.8L912.5,91.2L896.2,93L890,97.5L882.5,103.8L883.8,106.2L893.8,107.5L895,113.8L891.2,120L880,127.5L875,140L870,145L866.2,151.2L870,156.2L860,161.2L852.5,166.2L842.5,170L832.5,166.2L822.5,163.8L817.5,172.5L812.5,181.2L806.2,190L806.2,196.2L802,200L810,207.5L817.5,203.8L825,202.5L833.8,208L840,202.5L846.2,200L855,201.2L862.5,205L870,211.2L877.5,218.8L880,225L880,228.8L870,227.5L860,227L850,228.8L840,231.2L830,233.8L820,238.8L815,243.8L813.8,247.5L805,250L797.5,253L785,254.5L780,258.8L772.5,263.8L765,267L756.2,266.2L746.2,262.5L736.2,260.5L731.2,267.5L727.5,273.8L731.2,280L737.5,286.2L736.2,289.5L727.5,292.5L721.2,296.2L716.2,302.5L708.8,308.8L700,311.2L692.5,313.8L677.5,314.5L660,315L645,318L632.5,322.5L620,327L613.8,331.2L610,330L605,330L603.8,327L592.5,327L583.8,325.5L577.5,322.5L570,320.5L560,319.5L556.2,314.5L545,311.2L535,309.5L526.2,310L516.2,311.2L510,312L500,310.5L490,310L480,308.8L472.5,307.5L457.5,308L452.5,301.2L447.5,293.8L443.8,285L440,281.2L440,276.2L430,275L420,268.8L412.5,265.5L405,262.5Z"/>
<path class="b" style="fill:#FEAC3A" d="M677.5,786.7L683.3,783.3L688.3,776.7L695,773.3L703.3,772L713.3,770L718.3,771.7L721.7,776.7L720,783.3L715,788.3L712.5,796.7L706.7,803.3L700,808.3L693.3,810.8L686.7,808.3L680,805L677.5,800L678.3,793.3Z"/>
<path class="b" style="fill:#FECE65" d="M910,664.5L915,667.5L917.5,672.5L914.5,680L912.5,690L908.8,702.5L905,712.5L901.2,720L898.8,727.5L897.5,733.8L895,733.8L893.8,725L888.8,720L885,713.8L883,705L885,696.2L888.8,687.5L893.8,678.8L900,671.2L905,667Z"/>
<path class="b" style="stroke-width:1" d="M882.7,792L877.3,803.5L872,814.7"/>
<path class="b" style="stroke-width:1.6" d="M864.8,853.3L864.8,875.5"/>
<path class="b" style="stroke-width:1" d="M863.5,936L860,949.3L855.5,959.2"/>
<path class="b" style="stroke-width:1" d="M814.7,1018.1L801.3,1035.5"/>
<path class="b" style="stroke-width:1.3" d="M748,1060L748.8,1066.7L750.4,1072.8"/>
<path class="b" style="stroke-width:1" d="M748,1077.3L754.7,1078.7"/>
<path class="b" style="stroke-width:1.3" d="M670.1,1037.3L669.3,1046.7L672,1058.7"/>
<path class="b" style="stroke-width:1.3" d="M708,931.5L706.7,942.7L703.5,952"/>
<path class="b" style="stroke-width:1" d="M689.3,850.1L696,860L699.2,872"/>
<path class="b" style="stroke-width:1.4" d="M932,679.5L927,702"/>
<path class="b" style="stroke-width:1" d="M916.2,738.2L902.5,756.2"/>
<path class="b" style="stroke-width:1" d="M882.5,792.5L872.5,813.8"/>
<g fill="#5a5a5a"><circle cx="729.3" cy="832.8" r="0.95"/><circle cx="743.5" cy="835.5" r="0.95"/><circle cx="732" cy="844" r="0.95"/><circle cx="733.3" cy="849.9" r="0.95"/><circle cx="739.2" cy="848" r="0.95"/><circle cx="746.7" cy="848.8" r="0.95"/><circle cx="748.8" cy="844" r="0.95"/><circle cx="748" cy="853.3" r="0.95"/><circle cx="734.7" cy="854.1" r="0.95"/><circle cx="741.9" cy="860" r="0.95"/><circle cx="772.8" cy="857.3" r="0.95"/><circle cx="777.3" cy="854.7" r="0.95"/><circle cx="782.7" cy="852.5" r="0.95"/><circle cx="787.2" cy="850.7" r="0.95"/><circle cx="789.3" cy="854.7" r="0.95"/><circle cx="784" cy="862.7" r="0.95"/><circle cx="772" cy="865.3" r="0.95"/><circle cx="822.7" cy="848" r="0.95"/><circle cx="841.9" cy="871.5" r="0.95"/><circle cx="799.5" cy="896.5" r="0.95"/><circle cx="756.5" cy="783.2" r="0.95"/><circle cx="786.1" cy="947.2" r="0.95"/><circle cx="787.2" cy="955.5" r="0.95"/><circle cx="784" cy="960" r="0.95"/><circle cx="776" cy="958.7" r="0.95"/><circle cx="791.5" cy="959.2" r="0.95"/><circle cx="823.5" cy="947.5" r="0.95"/><circle cx="833.3" cy="956" r="0.95"/><circle cx="840" cy="956" r="0.95"/><circle cx="834.1" cy="962.7" r="0.95"/><circle cx="821.3" cy="968" r="0.95"/><circle cx="818.7" cy="970.7" r="0.95"/><circle cx="824" cy="966.7" r="0.95"/><circle cx="832.5" cy="970.7" r="0.95"/><circle cx="834.7" cy="976" r="0.95"/><circle cx="805.9" cy="968" r="0.95"/><circle cx="797.9" cy="972.5" r="0.95"/><circle cx="801.9" cy="978.7" r="0.95"/><circle cx="810.7" cy="976" r="0.95"/><circle cx="808" cy="983.2" r="0.95"/><circle cx="812.8" cy="985.3" r="0.95"/><circle cx="819.2" cy="982.7" r="0.95"/><circle cx="800" cy="989.3" r="0.95"/><circle cx="809.3" cy="992" r="0.95"/><circle cx="818.1" cy="994.7" r="0.95"/><circle cx="822.7" cy="996.5" r="0.95"/><circle cx="815.5" cy="1000" r="0.95"/><circle cx="766.7" cy="972" r="0.95"/><circle cx="771.2" cy="976" r="0.95"/><circle cx="778.7" cy="971.5" r="0.95"/><circle cx="786.7" cy="969.9" r="0.95"/><circle cx="786.1" cy="978.7" r="0.95"/><circle cx="786.7" cy="982.7" r="0.95"/><circle cx="777.3" cy="990.1" r="0.95"/><circle cx="768" cy="993.3" r="0.95"/><circle cx="772.8" cy="1000.8" r="0.95"/><circle cx="777.3" cy="1002.7" r="0.95"/><circle cx="785.3" cy="1000.8" r="0.95"/><circle cx="748" cy="986.7" r="0.95"/><circle cx="742.7" cy="1000.8" r="0.95"/><circle cx="748" cy="1000" r="0.95"/><circle cx="753.3" cy="1000" r="0.95"/><circle cx="729.3" cy="1006.7" r="0.95"/><circle cx="732.8" cy="1005.3" r="0.95"/><circle cx="755.2" cy="1009.3" r="0.95"/><circle cx="762.1" cy="1014.7" r="0.95"/><circle cx="732" cy="1021.3" r="0.95"/><circle cx="730.7" cy="1026.7" r="0.95"/><circle cx="737.3" cy="1016.8" r="0.95"/><circle cx="754.7" cy="1021.3" r="0.95"/><circle cx="796" cy="1009.3" r="0.95"/><circle cx="801.3" cy="1008" r="0.95"/><circle cx="786.1" cy="1014.7" r="0.95"/><circle cx="789.3" cy="1018.7" r="0.95"/><circle cx="772.8" cy="1017.9" r="0.95"/><circle cx="792" cy="1027.5" r="0.95"/><circle cx="788.8" cy="1033.3" r="0.95"/><circle cx="766.7" cy="1039.2" r="0.95"/><circle cx="760" cy="1052.5" r="0.95"/><circle cx="712" cy="1021.3" r="0.95"/></g>
<circle cx="771.5" cy="789.3" r="1.1" fill="#FEAC3A" stroke="#5a5a5a" stroke-width="0.5"/>
<circle cx="842.1" cy="961.3" r="1.1" fill="#FEAC3A" stroke="#5a5a5a" stroke-width="0.5"/>
<circle cx="701.9" cy="1020.5" r="1.1" fill="#FEAC3A" stroke="#5a5a5a" stroke-width="0.5"/>
<circle cx="712" cy="1016" r="1.1" fill="#FEAC3A" stroke="#5a5a5a" stroke-width="0.5"/>
<path d="M770.7,1026.7L776,1021.3L782.7,1018.7L784,1021.3L778.7,1026.7L773.3,1028Z" fill="#FEAC3A" stroke="#5a5a5a" stroke-width="0.5"/>
<path class="b" style="stroke-width:1.4" d="M692.8,1032L697.3,1028.5L701.3,1027.5"/>
<g fill="#5a5a5a"><circle cx="686.2" cy="751.8" r="0.8"/><circle cx="810" cy="752" r="0.8"/><circle cx="825" cy="758.8" r="0.8"/><circle cx="756.2" cy="783.2" r="0.8"/><circle cx="771.2" cy="789.2" r="0.8"/><circle cx="873.8" cy="700" r="0.8"/><circle cx="872" cy="706.2" r="0.8"/><circle cx="919.5" cy="659.5" r="0.8"/><circle cx="908.8" cy="718.8" r="0.8"/><circle cx="909.5" cy="730.8" r="0.8"/></g>
<g fill="#5a5a5a"><circle cx="918.3" cy="563.3" r="0.9"/><circle cx="920.8" cy="565" r="0.9"/><circle cx="923.3" cy="564.2" r="0.9"/><circle cx="920" cy="568.3" r="0.9"/><circle cx="922.5" cy="569.2" r="0.9"/><circle cx="925" cy="567.5" r="0.9"/><circle cx="919.2" cy="571.7" r="0.9"/><circle cx="922.5" cy="573.3" r="0.9"/><circle cx="926.7" cy="555" r="0.9"/><circle cx="931.7" cy="554.2" r="0.9"/><circle cx="924.2" cy="559.2" r="0.9"/><circle cx="930" cy="565" r="0.9"/><circle cx="915.8" cy="600" r="0.9"/><circle cx="915" cy="604.2" r="0.9"/><circle cx="902.5" cy="609.2" r="0.9"/><circle cx="901.7" cy="613.3" r="0.9"/><circle cx="891.7" cy="629.2" r="0.9"/><circle cx="888.3" cy="634.2" r="0.9"/><circle cx="918.3" cy="543.3" r="0.9"/><circle cx="920" cy="541.7" r="0.9"/></g>
<path d="M24,24H1176V1176H24ZM25,25V1174H1174V25Z" fill="#000" fill-rule="evenodd"/>
<text x="48" y="107.5" font-size="52" class="cj">父系：</text>
<text x="218.3" y="107" font-size="52.4" class="la lb">O-Z23392</text>
<text x="469" y="107" font-size="52" class="la lb">(</text>
<text x="485" y="107" font-size="52" class="cj">含下游</text>
<text x="637.5" y="107" font-size="52" class="la lb">)</text>
<text x="55" y="786" font-size="36.5" class="cj">相对占比</text>
<rect x="58" y="805" width="33.3" height="33.8" fill="#FFFFE5"/>
<text x="99.5" y="834" font-size="28" class="la ls" textLength="218" lengthAdjust="spacingAndGlyphs">0.063% - 0.366%</text>
<rect x="58" y="838.6" width="33.3" height="33.8" fill="#FFF8C0"/>
<text x="99.5" y="867.45" font-size="28" class="la ls" textLength="218" lengthAdjust="spacingAndGlyphs">0.366% - 0.741%</text>
<rect x="58" y="872.2" width="33.3" height="33.8" fill="#FEE79A"/>
<text x="99.5" y="900.9" font-size="28" class="la ls" textLength="218" lengthAdjust="spacingAndGlyphs">0.741% - 1.176%</text>
<rect x="58" y="905.8" width="33.3" height="33.8" fill="#FECE65"/>
<text x="99.5" y="934.35" font-size="28" class="la ls" textLength="218" lengthAdjust="spacingAndGlyphs">1.176% - 1.657%</text>
<rect x="58" y="939.4" width="33.3" height="33.8" fill="#FEAC3A"/>
<text x="99.5" y="967.8" font-size="28" class="la ls" textLength="218" lengthAdjust="spacingAndGlyphs">1.657% - 2.085%</text>
<rect x="58" y="973" width="33.3" height="33.8" fill="#F68720"/>
<text x="99.5" y="1001.25" font-size="28" class="la ls" textLength="218" lengthAdjust="spacingAndGlyphs">2.085% - 2.540%</text>
<rect x="58" y="1006.6" width="33.3" height="33.8" fill="#E1640E"/>
<text x="99.5" y="1034.7" font-size="28" class="la ls" textLength="218" lengthAdjust="spacingAndGlyphs">2.540% - 3.175%</text>
<rect x="58" y="1040.2" width="33.3" height="33.8" fill="#C14702"/>
<text x="99.5" y="1068.15" font-size="28" class="la ls" textLength="218" lengthAdjust="spacingAndGlyphs">3.175% - 3.901%</text>
<rect x="58" y="1073.8" width="33.3" height="33.8" fill="#933204"/>
<text x="99.5" y="1101.6" font-size="28" class="la ls" textLength="218" lengthAdjust="spacingAndGlyphs">3.901% - 5.607%</text>
<rect x="58" y="1107.4" width="33.3" height="33.8" fill="#662506"/>
<text x="99.5" y="1135.05" font-size="28" class="la ls" textLength="218" lengthAdjust="spacingAndGlyphs">5.607% - 7.946%</text>
<text x="944.5" y="1137" font-size="28.3" class="cj" style="fill:#1a1a1a">作者<tspan class="la">:O1a</tspan>溯源群</text>
</svg></body></html>
